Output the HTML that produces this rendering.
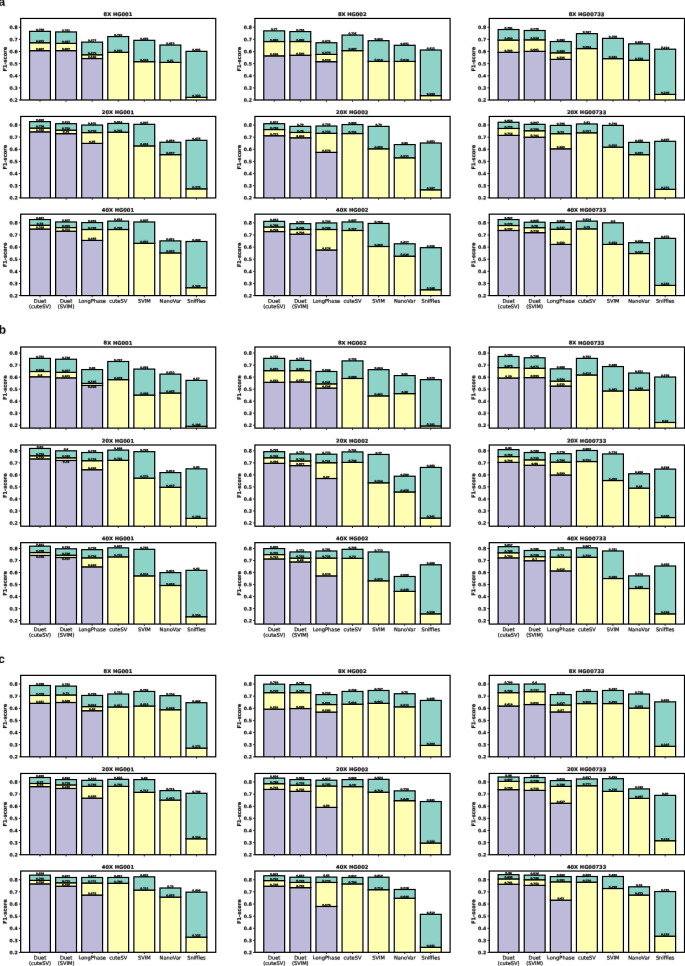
<!DOCTYPE html>
<html lang="en"><head><meta charset="utf-8"><title>F1-score benchmarks</title>
<style>html,body{margin:0;padding:0;background:#fff}body{width:685px;height:966px;overflow:hidden}svg{display:block}text{text-rendering:geometricPrecision}.t{font-family:'DejaVu Sans','Liberation Sans',sans-serif;font-weight:bold;font-size:5.15px;text-anchor:middle}.y{font-family:'DejaVu Sans','Liberation Sans',sans-serif;font-weight:bold;font-size:4.6px;text-anchor:end}.yl{font-family:'DejaVu Sans','Liberation Sans',sans-serif;font-weight:bold;font-size:5.1px;text-anchor:middle}.x{font-family:'DejaVu Sans','Liberation Sans',sans-serif;font-weight:normal;font-size:5.1px;text-anchor:middle}.v{font-family:'DejaVu Sans','Liberation Sans',sans-serif;font-weight:bold;font-size:2.6px;text-anchor:middle}.p{font-family:"Liberation Sans",Arial,sans-serif;font-weight:bold;font-size:12px}.t,.yl{stroke:#000;stroke-width:0.18px}.y{stroke:#000;stroke-width:0.16px}.v{stroke:#000;stroke-width:0.3px}.x{stroke:#000;stroke-width:0.2px}.b rect{stroke:#000;stroke-width:1.2}</style></head><body>
<svg width="685" height="966" viewBox="0 0 685 966">
<rect width="685" height="966" fill="#fff"/>
<g>
<clipPath id="c1"><rect x="20.7" y="18.45" width="195.05" height="81.55"/></clipPath>
<g class="b" clip-path="url(#c1)">
<rect x="29.57" y="50.63" width="20.86" height="52.37" fill="#bebada"/>
<rect x="29.57" y="42.75" width="20.86" height="7.88" fill="#ffffb3"/>
<rect x="29.57" y="31.34" width="20.86" height="11.4" fill="#8dd3c7"/>
<rect x="55.64" y="50.63" width="20.86" height="52.37" fill="#bebada"/>
<rect x="55.64" y="43.35" width="20.86" height="7.28" fill="#ffffb3"/>
<rect x="55.64" y="31.95" width="20.86" height="11.4" fill="#8dd3c7"/>
<rect x="81.72" y="58.52" width="20.86" height="44.48" fill="#bebada"/>
<rect x="81.72" y="54.76" width="20.86" height="3.76" fill="#ffffb3"/>
<rect x="81.72" y="42.14" width="20.86" height="12.62" fill="#8dd3c7"/>
<rect x="107.79" y="52.33" width="20.86" height="50.67" fill="#ffffb3"/>
<rect x="107.79" y="36.56" width="20.86" height="15.77" fill="#8dd3c7"/>
<rect x="133.87" y="61.67" width="20.86" height="41.33" fill="#ffffb3"/>
<rect x="133.87" y="40.32" width="20.86" height="21.35" fill="#8dd3c7"/>
<rect x="159.95" y="62.4" width="20.86" height="40.6" fill="#ffffb3"/>
<rect x="159.95" y="45.05" width="20.86" height="17.35" fill="#8dd3c7"/>
<rect x="186.02" y="97.33" width="20.86" height="5.67" fill="#ffffb3"/>
<rect x="186.02" y="51.36" width="20.86" height="45.97" fill="#8dd3c7"/>
</g>
<rect x="20.7" y="18.45" width="195.05" height="81.55" fill="none" stroke="#000" stroke-width="1.2"/>
<path d="M20.4 100h-1.5M20.4 87.87h-1.5M20.4 75.74h-1.5M20.4 63.61h-1.5M20.4 51.48h-1.5M20.4 39.35h-1.5M20.4 27.22h-1.5M40 100.3v1.5M66.07 100.3v1.5M92.15 100.3v1.5M118.23 100.3v1.5M144.3 100.3v1.5M170.38 100.3v1.5M196.45 100.3v1.5" stroke="#000" stroke-width="0.8" fill="none"/>
</g>
<g>
<clipPath id="c2"><rect x="254.9" y="18.45" width="195.2" height="81.55"/></clipPath>
<g class="b" clip-path="url(#c2)">
<rect x="263.77" y="55.85" width="20.88" height="47.15" fill="#bebada"/>
<rect x="263.77" y="41.53" width="20.88" height="14.31" fill="#ffffb3"/>
<rect x="263.77" y="30.86" width="20.88" height="10.67" fill="#8dd3c7"/>
<rect x="289.87" y="55.24" width="20.88" height="47.76" fill="#bebada"/>
<rect x="289.87" y="41.53" width="20.88" height="13.71" fill="#ffffb3"/>
<rect x="289.87" y="31.59" width="20.88" height="9.95" fill="#8dd3c7"/>
<rect x="315.97" y="61.67" width="20.88" height="41.33" fill="#bebada"/>
<rect x="315.97" y="54.39" width="20.88" height="7.28" fill="#ffffb3"/>
<rect x="315.97" y="42.75" width="20.88" height="11.64" fill="#8dd3c7"/>
<rect x="342.06" y="50.63" width="20.88" height="52.37" fill="#ffffb3"/>
<rect x="342.06" y="35.1" width="20.88" height="15.53" fill="#8dd3c7"/>
<rect x="368.16" y="61.43" width="20.88" height="41.57" fill="#ffffb3"/>
<rect x="368.16" y="40.68" width="20.88" height="20.74" fill="#8dd3c7"/>
<rect x="394.25" y="61.43" width="20.88" height="41.57" fill="#ffffb3"/>
<rect x="394.25" y="45.29" width="20.88" height="16.13" fill="#8dd3c7"/>
<rect x="420.35" y="95.63" width="20.88" height="7.37" fill="#ffffb3"/>
<rect x="420.35" y="50.02" width="20.88" height="45.61" fill="#8dd3c7"/>
</g>
<rect x="254.9" y="18.45" width="195.2" height="81.55" fill="none" stroke="#000" stroke-width="1.2"/>
<path d="M254.6 100h-1.5M254.6 87.87h-1.5M254.6 75.74h-1.5M254.6 63.61h-1.5M254.6 51.48h-1.5M254.6 39.35h-1.5M254.6 27.22h-1.5M274.21 100.3v1.5M300.31 100.3v1.5M326.4 100.3v1.5M352.5 100.3v1.5M378.6 100.3v1.5M404.69 100.3v1.5M430.79 100.3v1.5" stroke="#000" stroke-width="0.8" fill="none"/>
</g>
<g>
<clipPath id="c3"><rect x="489.25" y="18.45" width="195.25" height="81.55"/></clipPath>
<g class="b" clip-path="url(#c3)">
<rect x="498.12" y="52.33" width="20.88" height="50.67" fill="#bebada"/>
<rect x="498.12" y="40.08" width="20.88" height="12.25" fill="#ffffb3"/>
<rect x="498.12" y="29.52" width="20.88" height="10.55" fill="#8dd3c7"/>
<rect x="524.23" y="51.36" width="20.88" height="51.64" fill="#bebada"/>
<rect x="524.23" y="39.84" width="20.88" height="11.52" fill="#ffffb3"/>
<rect x="524.23" y="30.5" width="20.88" height="9.34" fill="#8dd3c7"/>
<rect x="550.33" y="59.36" width="20.88" height="43.64" fill="#bebada"/>
<rect x="550.33" y="52.81" width="20.88" height="6.55" fill="#ffffb3"/>
<rect x="550.33" y="41.53" width="20.88" height="11.28" fill="#8dd3c7"/>
<rect x="576.43" y="48.57" width="20.88" height="54.43" fill="#ffffb3"/>
<rect x="576.43" y="33.65" width="20.88" height="14.92" fill="#8dd3c7"/>
<rect x="602.54" y="58.64" width="20.88" height="44.36" fill="#ffffb3"/>
<rect x="602.54" y="38.38" width="20.88" height="20.26" fill="#8dd3c7"/>
<rect x="628.64" y="60.21" width="20.88" height="42.79" fill="#ffffb3"/>
<rect x="628.64" y="43.84" width="20.88" height="16.38" fill="#8dd3c7"/>
<rect x="654.74" y="94.42" width="20.88" height="8.58" fill="#ffffb3"/>
<rect x="654.74" y="49.18" width="20.88" height="45.24" fill="#8dd3c7"/>
</g>
<rect x="489.25" y="18.45" width="195.25" height="81.55" fill="none" stroke="#000" stroke-width="1.2"/>
<path d="M488.95 100h-1.5M488.95 87.87h-1.5M488.95 75.74h-1.5M488.95 63.61h-1.5M488.95 51.48h-1.5M488.95 39.35h-1.5M488.95 27.22h-1.5M508.57 100.3v1.5M534.67 100.3v1.5M560.77 100.3v1.5M586.88 100.3v1.5M612.98 100.3v1.5M639.08 100.3v1.5M665.18 100.3v1.5" stroke="#000" stroke-width="0.8" fill="none"/>
</g>
<g>
<clipPath id="c4"><rect x="20.7" y="116.45" width="195.05" height="81.5"/></clipPath>
<g class="b" clip-path="url(#c4)">
<rect x="29.57" y="131.84" width="20.86" height="69.11" fill="#bebada"/>
<rect x="29.57" y="128.08" width="20.86" height="3.76" fill="#ffffb3"/>
<rect x="29.57" y="121.65" width="20.86" height="6.43" fill="#8dd3c7"/>
<rect x="55.64" y="133.66" width="20.86" height="67.29" fill="#bebada"/>
<rect x="55.64" y="130.14" width="20.86" height="3.52" fill="#ffffb3"/>
<rect x="55.64" y="123.71" width="20.86" height="6.43" fill="#8dd3c7"/>
<rect x="81.72" y="143.36" width="20.86" height="57.59" fill="#bebada"/>
<rect x="81.72" y="132.57" width="20.86" height="10.8" fill="#ffffb3"/>
<rect x="81.72" y="125.05" width="20.86" height="7.52" fill="#8dd3c7"/>
<rect x="107.79" y="132.21" width="20.86" height="68.74" fill="#ffffb3"/>
<rect x="107.79" y="123.47" width="20.86" height="8.73" fill="#8dd3c7"/>
<rect x="133.87" y="145.91" width="20.86" height="55.04" fill="#ffffb3"/>
<rect x="133.87" y="124.32" width="20.86" height="21.59" fill="#8dd3c7"/>
<rect x="159.95" y="154.65" width="20.86" height="46.3" fill="#ffffb3"/>
<rect x="159.95" y="142.27" width="20.86" height="12.37" fill="#8dd3c7"/>
<rect x="186.02" y="188.85" width="20.86" height="12.1" fill="#ffffb3"/>
<rect x="186.02" y="140.33" width="20.86" height="48.52" fill="#8dd3c7"/>
</g>
<rect x="20.7" y="116.45" width="195.05" height="81.5" fill="none" stroke="#000" stroke-width="1.2"/>
<path d="M20.4 197.8h-1.5M20.4 185.67h-1.5M20.4 173.54h-1.5M20.4 161.41h-1.5M20.4 149.28h-1.5M20.4 137.15h-1.5M20.4 125.02h-1.5M40 198.25v1.5M66.07 198.25v1.5M92.15 198.25v1.5M118.23 198.25v1.5M144.3 198.25v1.5M170.38 198.25v1.5M196.45 198.25v1.5" stroke="#000" stroke-width="0.8" fill="none"/>
</g>
<g>
<clipPath id="c5"><rect x="254.9" y="116.45" width="195.2" height="81.5"/></clipPath>
<g class="b" clip-path="url(#c5)">
<rect x="263.77" y="135.72" width="20.88" height="65.23" fill="#bebada"/>
<rect x="263.77" y="129.54" width="20.88" height="6.19" fill="#ffffb3"/>
<rect x="263.77" y="123.71" width="20.88" height="5.82" fill="#8dd3c7"/>
<rect x="289.87" y="137.79" width="20.88" height="63.16" fill="#bebada"/>
<rect x="289.87" y="132.45" width="20.88" height="5.34" fill="#ffffb3"/>
<rect x="289.87" y="126.38" width="20.88" height="6.06" fill="#8dd3c7"/>
<rect x="315.97" y="152.34" width="20.88" height="48.61" fill="#bebada"/>
<rect x="315.97" y="133.3" width="20.88" height="19.04" fill="#ffffb3"/>
<rect x="315.97" y="126.02" width="20.88" height="7.28" fill="#8dd3c7"/>
<rect x="342.06" y="133.54" width="20.88" height="67.41" fill="#ffffb3"/>
<rect x="342.06" y="124.56" width="20.88" height="8.98" fill="#8dd3c7"/>
<rect x="368.16" y="148.82" width="20.88" height="52.13" fill="#ffffb3"/>
<rect x="368.16" y="126.38" width="20.88" height="22.44" fill="#8dd3c7"/>
<rect x="394.25" y="157.8" width="20.88" height="43.15" fill="#ffffb3"/>
<rect x="394.25" y="144.58" width="20.88" height="13.22" fill="#8dd3c7"/>
<rect x="420.35" y="189.82" width="20.88" height="11.13" fill="#ffffb3"/>
<rect x="420.35" y="143" width="20.88" height="46.82" fill="#8dd3c7"/>
</g>
<rect x="254.9" y="116.45" width="195.2" height="81.5" fill="none" stroke="#000" stroke-width="1.2"/>
<path d="M254.6 197.8h-1.5M254.6 185.67h-1.5M254.6 173.54h-1.5M254.6 161.41h-1.5M254.6 149.28h-1.5M254.6 137.15h-1.5M254.6 125.02h-1.5M274.21 198.25v1.5M300.31 198.25v1.5M326.4 198.25v1.5M352.5 198.25v1.5M378.6 198.25v1.5M404.69 198.25v1.5M430.79 198.25v1.5" stroke="#000" stroke-width="0.8" fill="none"/>
</g>
<g>
<clipPath id="c6"><rect x="489.25" y="116.45" width="195.25" height="81.5"/></clipPath>
<g class="b" clip-path="url(#c6)">
<rect x="498.12" y="135.36" width="20.88" height="65.59" fill="#bebada"/>
<rect x="498.12" y="128.45" width="20.88" height="6.91" fill="#ffffb3"/>
<rect x="498.12" y="122.26" width="20.88" height="6.19" fill="#8dd3c7"/>
<rect x="524.23" y="137.18" width="20.88" height="63.77" fill="#bebada"/>
<rect x="524.23" y="130.75" width="20.88" height="6.43" fill="#ffffb3"/>
<rect x="524.23" y="124.32" width="20.88" height="6.43" fill="#8dd3c7"/>
<rect x="550.33" y="148.82" width="20.88" height="52.13" fill="#bebada"/>
<rect x="550.33" y="133.66" width="20.88" height="15.16" fill="#ffffb3"/>
<rect x="550.33" y="125.41" width="20.88" height="8.25" fill="#8dd3c7"/>
<rect x="576.43" y="132.81" width="20.88" height="68.14" fill="#ffffb3"/>
<rect x="576.43" y="123.96" width="20.88" height="8.85" fill="#8dd3c7"/>
<rect x="602.54" y="147.13" width="20.88" height="53.82" fill="#ffffb3"/>
<rect x="602.54" y="125.41" width="20.88" height="21.71" fill="#8dd3c7"/>
<rect x="628.64" y="154.65" width="20.88" height="46.3" fill="#ffffb3"/>
<rect x="628.64" y="142.39" width="20.88" height="12.25" fill="#8dd3c7"/>
<rect x="654.74" y="189.34" width="20.88" height="11.61" fill="#ffffb3"/>
<rect x="654.74" y="141.3" width="20.88" height="48.03" fill="#8dd3c7"/>
</g>
<rect x="489.25" y="116.45" width="195.25" height="81.5" fill="none" stroke="#000" stroke-width="1.2"/>
<path d="M488.95 197.8h-1.5M488.95 185.67h-1.5M488.95 173.54h-1.5M488.95 161.41h-1.5M488.95 149.28h-1.5M488.95 137.15h-1.5M488.95 125.02h-1.5M508.57 198.25v1.5M534.67 198.25v1.5M560.77 198.25v1.5M586.88 198.25v1.5M612.98 198.25v1.5M639.08 198.25v1.5M665.18 198.25v1.5" stroke="#000" stroke-width="0.8" fill="none"/>
</g>
<g>
<clipPath id="c7"><rect x="20.7" y="214.15" width="195.05" height="81.45"/></clipPath>
<g class="b" clip-path="url(#c7)">
<rect x="29.57" y="229.01" width="20.86" height="69.59" fill="#bebada"/>
<rect x="29.57" y="225.25" width="20.86" height="3.76" fill="#ffffb3"/>
<rect x="29.57" y="219.54" width="20.86" height="5.7" fill="#8dd3c7"/>
<rect x="55.64" y="231.19" width="20.86" height="67.41" fill="#bebada"/>
<rect x="55.64" y="227.55" width="20.86" height="3.64" fill="#ffffb3"/>
<rect x="55.64" y="221.97" width="20.86" height="5.58" fill="#8dd3c7"/>
<rect x="81.72" y="240.41" width="20.86" height="58.19" fill="#bebada"/>
<rect x="81.72" y="229.49" width="20.86" height="10.92" fill="#ffffb3"/>
<rect x="81.72" y="222.58" width="20.86" height="6.91" fill="#8dd3c7"/>
<rect x="107.79" y="229.49" width="20.86" height="69.11" fill="#ffffb3"/>
<rect x="107.79" y="221.12" width="20.86" height="8.37" fill="#8dd3c7"/>
<rect x="133.87" y="243.32" width="20.86" height="55.28" fill="#ffffb3"/>
<rect x="133.87" y="221.97" width="20.86" height="21.35" fill="#8dd3c7"/>
<rect x="159.95" y="252.9" width="20.86" height="45.7" fill="#ffffb3"/>
<rect x="159.95" y="240.89" width="20.86" height="12.01" fill="#8dd3c7"/>
<rect x="186.02" y="287.72" width="20.86" height="10.88" fill="#ffffb3"/>
<rect x="186.02" y="241.5" width="20.86" height="46.22" fill="#8dd3c7"/>
</g>
<rect x="20.7" y="214.15" width="195.05" height="81.45" fill="none" stroke="#000" stroke-width="1.2"/>
<path d="M20.4 295.6h-1.5M20.4 283.47h-1.5M20.4 271.34h-1.5M20.4 259.21h-1.5M20.4 247.08h-1.5M20.4 234.95h-1.5M20.4 222.82h-1.5M40 295.9v1.5M66.07 295.9v1.5M92.15 295.9v1.5M118.23 295.9v1.5M144.3 295.9v1.5M170.38 295.9v1.5M196.45 295.9v1.5" stroke="#000" stroke-width="0.8" fill="none"/>
</g>
<g>
<clipPath id="c8"><rect x="254.9" y="214.15" width="195.2" height="81.45"/></clipPath>
<g class="b" clip-path="url(#c8)">
<rect x="263.77" y="231.55" width="20.88" height="67.05" fill="#bebada"/>
<rect x="263.77" y="226.94" width="20.88" height="4.61" fill="#ffffb3"/>
<rect x="263.77" y="221.36" width="20.88" height="5.58" fill="#8dd3c7"/>
<rect x="289.87" y="234.22" width="20.88" height="64.38" fill="#bebada"/>
<rect x="289.87" y="229.49" width="20.88" height="4.73" fill="#ffffb3"/>
<rect x="289.87" y="223.67" width="20.88" height="5.82" fill="#8dd3c7"/>
<rect x="315.97" y="249.99" width="20.88" height="48.61" fill="#bebada"/>
<rect x="315.97" y="229.49" width="20.88" height="20.5" fill="#ffffb3"/>
<rect x="315.97" y="222.94" width="20.88" height="6.55" fill="#8dd3c7"/>
<rect x="342.06" y="230.46" width="20.88" height="68.14" fill="#ffffb3"/>
<rect x="342.06" y="221.97" width="20.88" height="8.49" fill="#8dd3c7"/>
<rect x="368.16" y="246.47" width="20.88" height="52.13" fill="#ffffb3"/>
<rect x="368.16" y="223.43" width="20.88" height="23.05" fill="#8dd3c7"/>
<rect x="394.25" y="256.18" width="20.88" height="42.42" fill="#ffffb3"/>
<rect x="394.25" y="243.8" width="20.88" height="12.37" fill="#8dd3c7"/>
<rect x="420.35" y="289.78" width="20.88" height="8.82" fill="#ffffb3"/>
<rect x="420.35" y="247.69" width="20.88" height="42.09" fill="#8dd3c7"/>
</g>
<rect x="254.9" y="214.15" width="195.2" height="81.45" fill="none" stroke="#000" stroke-width="1.2"/>
<path d="M254.6 295.6h-1.5M254.6 283.47h-1.5M254.6 271.34h-1.5M254.6 259.21h-1.5M254.6 247.08h-1.5M254.6 234.95h-1.5M254.6 222.82h-1.5M274.21 295.9v1.5M300.31 295.9v1.5M326.4 295.9v1.5M352.5 295.9v1.5M378.6 295.9v1.5M404.69 295.9v1.5M430.79 295.9v1.5" stroke="#000" stroke-width="0.8" fill="none"/>
</g>
<g>
<clipPath id="c9"><rect x="489.25" y="214.15" width="195.25" height="81.45"/></clipPath>
<g class="b" clip-path="url(#c9)">
<rect x="498.12" y="230.46" width="20.88" height="68.14" fill="#bebada"/>
<rect x="498.12" y="225.49" width="20.88" height="4.97" fill="#ffffb3"/>
<rect x="498.12" y="219.54" width="20.88" height="5.94" fill="#8dd3c7"/>
<rect x="524.23" y="232.65" width="20.88" height="65.95" fill="#bebada"/>
<rect x="524.23" y="227.67" width="20.88" height="4.97" fill="#ffffb3"/>
<rect x="524.23" y="222.21" width="20.88" height="5.46" fill="#8dd3c7"/>
<rect x="550.33" y="244.41" width="20.88" height="54.19" fill="#bebada"/>
<rect x="550.33" y="229.25" width="20.88" height="15.16" fill="#ffffb3"/>
<rect x="550.33" y="222.58" width="20.88" height="6.67" fill="#8dd3c7"/>
<rect x="576.43" y="228.89" width="20.88" height="69.72" fill="#ffffb3"/>
<rect x="576.43" y="221.12" width="20.88" height="7.76" fill="#8dd3c7"/>
<rect x="602.54" y="244.41" width="20.88" height="54.19" fill="#ffffb3"/>
<rect x="602.54" y="222.82" width="20.88" height="21.59" fill="#8dd3c7"/>
<rect x="628.64" y="253.51" width="20.88" height="45.09" fill="#ffffb3"/>
<rect x="628.64" y="242.71" width="20.88" height="10.8" fill="#8dd3c7"/>
<rect x="654.74" y="285.41" width="20.88" height="13.19" fill="#ffffb3"/>
<rect x="654.74" y="238.35" width="20.88" height="47.06" fill="#8dd3c7"/>
</g>
<rect x="489.25" y="214.15" width="195.25" height="81.45" fill="none" stroke="#000" stroke-width="1.2"/>
<path d="M488.95 295.6h-1.5M488.95 283.47h-1.5M488.95 271.34h-1.5M488.95 259.21h-1.5M488.95 247.08h-1.5M488.95 234.95h-1.5M488.95 222.82h-1.5M508.57 295.9v1.5M534.67 295.9v1.5M560.77 295.9v1.5M586.88 295.9v1.5M612.98 295.9v1.5M639.08 295.9v1.5M665.18 295.9v1.5" stroke="#000" stroke-width="0.8" fill="none"/>
</g>
<g>
<clipPath id="c10"><rect x="20.7" y="347" width="195.05" height="81.1"/></clipPath>
<g class="b" clip-path="url(#c10)">
<rect x="29.57" y="376.77" width="20.86" height="54.33" fill="#bebada"/>
<rect x="29.57" y="371.48" width="20.86" height="5.29" fill="#ffffb3"/>
<rect x="29.57" y="358.38" width="20.86" height="13.1" fill="#8dd3c7"/>
<rect x="55.64" y="377.85" width="20.86" height="53.25" fill="#bebada"/>
<rect x="55.64" y="372.32" width="20.86" height="5.53" fill="#ffffb3"/>
<rect x="55.64" y="359.22" width="20.86" height="13.1" fill="#8dd3c7"/>
<rect x="81.72" y="385.42" width="20.86" height="45.68" fill="#bebada"/>
<rect x="81.72" y="383.38" width="20.86" height="2.04" fill="#ffffb3"/>
<rect x="81.72" y="369.56" width="20.86" height="13.82" fill="#8dd3c7"/>
<rect x="107.79" y="379.65" width="20.86" height="51.45" fill="#ffffb3"/>
<rect x="107.79" y="361.5" width="20.86" height="18.15" fill="#8dd3c7"/>
<rect x="133.87" y="395.04" width="20.86" height="36.06" fill="#ffffb3"/>
<rect x="133.87" y="369.08" width="20.86" height="25.96" fill="#8dd3c7"/>
<rect x="159.95" y="393" width="20.86" height="38.1" fill="#ffffb3"/>
<rect x="159.95" y="374.13" width="20.86" height="18.87" fill="#8dd3c7"/>
<rect x="186.02" y="426.29" width="20.86" height="4.81" fill="#ffffb3"/>
<rect x="186.02" y="380.38" width="20.86" height="45.92" fill="#8dd3c7"/>
</g>
<rect x="20.7" y="347" width="195.05" height="81.1" fill="none" stroke="#000" stroke-width="1.2"/>
<path d="M20.4 425.2h-1.5M20.4 413.18h-1.5M20.4 401.16h-1.5M20.4 389.14h-1.5M20.4 377.12h-1.5M20.4 365.1h-1.5M20.4 353.08h-1.5M40 428.4v1.5M66.07 428.4v1.5M92.15 428.4v1.5M118.23 428.4v1.5M144.3 428.4v1.5M170.38 428.4v1.5M196.45 428.4v1.5" stroke="#000" stroke-width="0.8" fill="none"/>
</g>
<g>
<clipPath id="c11"><rect x="254.9" y="347" width="195.2" height="81.1"/></clipPath>
<g class="b" clip-path="url(#c11)">
<rect x="263.77" y="382.3" width="20.88" height="48.8" fill="#bebada"/>
<rect x="263.77" y="370.64" width="20.88" height="11.66" fill="#ffffb3"/>
<rect x="263.77" y="358.38" width="20.88" height="12.26" fill="#8dd3c7"/>
<rect x="289.87" y="381.94" width="20.88" height="49.16" fill="#bebada"/>
<rect x="289.87" y="370.64" width="20.88" height="11.3" fill="#ffffb3"/>
<rect x="289.87" y="360.42" width="20.88" height="10.22" fill="#8dd3c7"/>
<rect x="315.97" y="388.07" width="20.88" height="43.03" fill="#bebada"/>
<rect x="315.97" y="383.86" width="20.88" height="4.21" fill="#ffffb3"/>
<rect x="315.97" y="371.48" width="20.88" height="12.38" fill="#8dd3c7"/>
<rect x="342.06" y="378.45" width="20.88" height="52.65" fill="#ffffb3"/>
<rect x="342.06" y="360.9" width="20.88" height="17.55" fill="#8dd3c7"/>
<rect x="368.16" y="395.88" width="20.88" height="35.22" fill="#ffffb3"/>
<rect x="368.16" y="369.68" width="20.88" height="26.2" fill="#8dd3c7"/>
<rect x="394.25" y="393.6" width="20.88" height="37.5" fill="#ffffb3"/>
<rect x="394.25" y="375.57" width="20.88" height="18.03" fill="#8dd3c7"/>
<rect x="420.35" y="425.93" width="20.88" height="5.17" fill="#ffffb3"/>
<rect x="420.35" y="379.65" width="20.88" height="46.28" fill="#8dd3c7"/>
</g>
<rect x="254.9" y="347" width="195.2" height="81.1" fill="none" stroke="#000" stroke-width="1.2"/>
<path d="M254.6 425.2h-1.5M254.6 413.18h-1.5M254.6 401.16h-1.5M254.6 389.14h-1.5M254.6 377.12h-1.5M254.6 365.1h-1.5M254.6 353.08h-1.5M274.21 428.4v1.5M300.31 428.4v1.5M326.4 428.4v1.5M352.5 428.4v1.5M378.6 428.4v1.5M404.69 428.4v1.5M430.79 428.4v1.5" stroke="#000" stroke-width="0.8" fill="none"/>
</g>
<g>
<clipPath id="c12"><rect x="489.25" y="347" width="195.25" height="81.1"/></clipPath>
<g class="b" clip-path="url(#c12)">
<rect x="498.12" y="377.97" width="20.88" height="53.13" fill="#bebada"/>
<rect x="498.12" y="367.63" width="20.88" height="10.34" fill="#ffffb3"/>
<rect x="498.12" y="356.46" width="20.88" height="11.18" fill="#8dd3c7"/>
<rect x="524.23" y="377.61" width="20.88" height="53.49" fill="#bebada"/>
<rect x="524.23" y="368.24" width="20.88" height="9.38" fill="#ffffb3"/>
<rect x="524.23" y="357.78" width="20.88" height="10.46" fill="#8dd3c7"/>
<rect x="550.33" y="386.03" width="20.88" height="45.07" fill="#bebada"/>
<rect x="550.33" y="381.1" width="20.88" height="4.93" fill="#ffffb3"/>
<rect x="550.33" y="368.84" width="20.88" height="12.26" fill="#8dd3c7"/>
<rect x="576.43" y="374.97" width="20.88" height="56.13" fill="#ffffb3"/>
<rect x="576.43" y="358.38" width="20.88" height="16.59" fill="#8dd3c7"/>
<rect x="602.54" y="390.95" width="20.88" height="40.15" fill="#ffffb3"/>
<rect x="602.54" y="366.55" width="20.88" height="24.4" fill="#8dd3c7"/>
<rect x="628.64" y="390.11" width="20.88" height="40.99" fill="#ffffb3"/>
<rect x="628.64" y="373.04" width="20.88" height="17.07" fill="#8dd3c7"/>
<rect x="654.74" y="422.45" width="20.88" height="8.65" fill="#ffffb3"/>
<rect x="654.74" y="377.01" width="20.88" height="45.44" fill="#8dd3c7"/>
</g>
<rect x="489.25" y="347" width="195.25" height="81.1" fill="none" stroke="#000" stroke-width="1.2"/>
<path d="M488.95 425.2h-1.5M488.95 413.18h-1.5M488.95 401.16h-1.5M488.95 389.14h-1.5M488.95 377.12h-1.5M488.95 365.1h-1.5M488.95 353.08h-1.5M508.57 428.4v1.5M534.67 428.4v1.5M560.77 428.4v1.5M586.88 428.4v1.5M612.98 428.4v1.5M639.08 428.4v1.5M665.18 428.4v1.5" stroke="#000" stroke-width="0.8" fill="none"/>
</g>
<g>
<clipPath id="c13"><rect x="20.7" y="445" width="195.05" height="81.2"/></clipPath>
<g class="b" clip-path="url(#c13)">
<rect x="29.57" y="458.88" width="20.86" height="70.32" fill="#bebada"/>
<rect x="29.57" y="455.76" width="20.86" height="3.13" fill="#ffffb3"/>
<rect x="29.57" y="448.43" width="20.86" height="7.33" fill="#8dd3c7"/>
<rect x="55.64" y="460.45" width="20.86" height="68.75" fill="#bebada"/>
<rect x="55.64" y="457.8" width="20.86" height="2.64" fill="#ffffb3"/>
<rect x="55.64" y="450.83" width="20.86" height="6.97" fill="#8dd3c7"/>
<rect x="81.72" y="469.7" width="20.86" height="59.5" fill="#bebada"/>
<rect x="81.72" y="460.69" width="20.86" height="9.01" fill="#ffffb3"/>
<rect x="81.72" y="452.51" width="20.86" height="8.17" fill="#8dd3c7"/>
<rect x="107.79" y="460.33" width="20.86" height="68.87" fill="#ffffb3"/>
<rect x="107.79" y="450.11" width="20.86" height="10.22" fill="#8dd3c7"/>
<rect x="133.87" y="478.12" width="20.86" height="51.08" fill="#ffffb3"/>
<rect x="133.87" y="451.67" width="20.86" height="26.44" fill="#8dd3c7"/>
<rect x="159.95" y="487.25" width="20.86" height="41.95" fill="#ffffb3"/>
<rect x="159.95" y="472.59" width="20.86" height="14.66" fill="#8dd3c7"/>
<rect x="186.02" y="518.38" width="20.86" height="10.82" fill="#ffffb3"/>
<rect x="186.02" y="468.86" width="20.86" height="49.52" fill="#8dd3c7"/>
</g>
<rect x="20.7" y="445" width="195.05" height="81.2" fill="none" stroke="#000" stroke-width="1.2"/>
<path d="M20.4 522.95h-1.5M20.4 510.93h-1.5M20.4 498.91h-1.5M20.4 486.89h-1.5M20.4 474.87h-1.5M20.4 462.85h-1.5M20.4 450.83h-1.5M40 526.5v1.5M66.07 526.5v1.5M92.15 526.5v1.5M118.23 526.5v1.5M144.3 526.5v1.5M170.38 526.5v1.5M196.45 526.5v1.5" stroke="#000" stroke-width="0.8" fill="none"/>
</g>
<g>
<clipPath id="c14"><rect x="254.9" y="445" width="195.2" height="81.2"/></clipPath>
<g class="b" clip-path="url(#c14)">
<rect x="263.77" y="463.33" width="20.88" height="65.87" fill="#bebada"/>
<rect x="263.77" y="457.8" width="20.88" height="5.53" fill="#ffffb3"/>
<rect x="263.77" y="451.67" width="20.88" height="6.13" fill="#8dd3c7"/>
<rect x="289.87" y="465.61" width="20.88" height="63.59" fill="#bebada"/>
<rect x="289.87" y="460.93" width="20.88" height="4.69" fill="#ffffb3"/>
<rect x="289.87" y="453.96" width="20.88" height="6.97" fill="#8dd3c7"/>
<rect x="315.97" y="478.48" width="20.88" height="50.72" fill="#bebada"/>
<rect x="315.97" y="462.73" width="20.88" height="15.75" fill="#ffffb3"/>
<rect x="315.97" y="454.2" width="20.88" height="8.53" fill="#8dd3c7"/>
<rect x="342.06" y="462.37" width="20.88" height="66.83" fill="#ffffb3"/>
<rect x="342.06" y="451.91" width="20.88" height="10.46" fill="#8dd3c7"/>
<rect x="368.16" y="482.8" width="20.88" height="46.4" fill="#ffffb3"/>
<rect x="368.16" y="454.44" width="20.88" height="28.37" fill="#8dd3c7"/>
<rect x="394.25" y="491.94" width="20.88" height="37.26" fill="#ffffb3"/>
<rect x="394.25" y="476.19" width="20.88" height="15.75" fill="#8dd3c7"/>
<rect x="420.35" y="518.02" width="20.88" height="11.18" fill="#ffffb3"/>
<rect x="420.35" y="467.42" width="20.88" height="50.6" fill="#8dd3c7"/>
</g>
<rect x="254.9" y="445" width="195.2" height="81.2" fill="none" stroke="#000" stroke-width="1.2"/>
<path d="M254.6 522.95h-1.5M254.6 510.93h-1.5M254.6 498.91h-1.5M254.6 486.89h-1.5M254.6 474.87h-1.5M254.6 462.85h-1.5M254.6 450.83h-1.5M274.21 526.5v1.5M300.31 526.5v1.5M326.4 526.5v1.5M352.5 526.5v1.5M378.6 526.5v1.5M404.69 526.5v1.5M430.79 526.5v1.5" stroke="#000" stroke-width="0.8" fill="none"/>
</g>
<g>
<clipPath id="c15"><rect x="489.25" y="445" width="195.25" height="81.2"/></clipPath>
<g class="b" clip-path="url(#c15)">
<rect x="498.12" y="462.37" width="20.88" height="66.83" fill="#bebada"/>
<rect x="498.12" y="456.6" width="20.88" height="5.77" fill="#ffffb3"/>
<rect x="498.12" y="449.63" width="20.88" height="6.97" fill="#8dd3c7"/>
<rect x="524.23" y="465.25" width="20.88" height="63.95" fill="#bebada"/>
<rect x="524.23" y="459.85" width="20.88" height="5.41" fill="#ffffb3"/>
<rect x="524.23" y="452.51" width="20.88" height="7.33" fill="#8dd3c7"/>
<rect x="550.33" y="474.99" width="20.88" height="54.21" fill="#bebada"/>
<rect x="550.33" y="462.13" width="20.88" height="12.86" fill="#ffffb3"/>
<rect x="550.33" y="453.71" width="20.88" height="8.41" fill="#8dd3c7"/>
<rect x="576.43" y="461.53" width="20.88" height="67.67" fill="#ffffb3"/>
<rect x="576.43" y="450.47" width="20.88" height="11.06" fill="#8dd3c7"/>
<rect x="602.54" y="480.52" width="20.88" height="48.68" fill="#ffffb3"/>
<rect x="602.54" y="453.96" width="20.88" height="26.56" fill="#8dd3c7"/>
<rect x="628.64" y="488.09" width="20.88" height="41.11" fill="#ffffb3"/>
<rect x="628.64" y="473.79" width="20.88" height="14.3" fill="#8dd3c7"/>
<rect x="654.74" y="517.54" width="20.88" height="11.66" fill="#ffffb3"/>
<rect x="654.74" y="469.1" width="20.88" height="48.44" fill="#8dd3c7"/>
</g>
<rect x="489.25" y="445" width="195.25" height="81.2" fill="none" stroke="#000" stroke-width="1.2"/>
<path d="M488.95 522.95h-1.5M488.95 510.93h-1.5M488.95 498.91h-1.5M488.95 486.89h-1.5M488.95 474.87h-1.5M488.95 462.85h-1.5M488.95 450.83h-1.5M508.57 526.5v1.5M534.67 526.5v1.5M560.77 526.5v1.5M586.88 526.5v1.5M612.98 526.5v1.5M639.08 526.5v1.5M665.18 526.5v1.5" stroke="#000" stroke-width="0.8" fill="none"/>
</g>
<g>
<clipPath id="c16"><rect x="20.7" y="542.67" width="195.05" height="81.4"/></clipPath>
<g class="b" clip-path="url(#c16)">
<rect x="29.57" y="555.43" width="20.86" height="71.64" fill="#bebada"/>
<rect x="29.57" y="552.55" width="20.86" height="2.88" fill="#ffffb3"/>
<rect x="29.57" y="546.18" width="20.86" height="6.37" fill="#8dd3c7"/>
<rect x="55.64" y="557.47" width="20.86" height="69.6" fill="#bebada"/>
<rect x="55.64" y="555.19" width="20.86" height="2.28" fill="#ffffb3"/>
<rect x="55.64" y="548.82" width="20.86" height="6.37" fill="#8dd3c7"/>
<rect x="81.72" y="566.85" width="20.86" height="60.22" fill="#bebada"/>
<rect x="81.72" y="557.84" width="20.86" height="9.02" fill="#ffffb3"/>
<rect x="81.72" y="549.66" width="20.86" height="8.17" fill="#8dd3c7"/>
<rect x="107.79" y="556.87" width="20.86" height="70.2" fill="#ffffb3"/>
<rect x="107.79" y="547.86" width="20.86" height="9.01" fill="#8dd3c7"/>
<rect x="133.87" y="575.87" width="20.86" height="51.2" fill="#ffffb3"/>
<rect x="133.87" y="549.3" width="20.86" height="26.56" fill="#8dd3c7"/>
<rect x="159.95" y="585.48" width="20.86" height="41.59" fill="#ffffb3"/>
<rect x="159.95" y="572.62" width="20.86" height="12.86" fill="#8dd3c7"/>
<rect x="186.02" y="616.73" width="20.86" height="10.34" fill="#ffffb3"/>
<rect x="186.02" y="570.34" width="20.86" height="46.4" fill="#8dd3c7"/>
</g>
<rect x="20.7" y="542.67" width="195.05" height="81.4" fill="none" stroke="#000" stroke-width="1.2"/>
<path d="M20.4 620.62h-1.5M20.4 608.6h-1.5M20.4 596.58h-1.5M20.4 584.56h-1.5M20.4 572.54h-1.5M20.4 560.52h-1.5M20.4 548.5h-1.5M40 624.37v1.5M66.07 624.37v1.5M92.15 624.37v1.5M118.23 624.37v1.5M144.3 624.37v1.5M170.38 624.37v1.5M196.45 624.37v1.5" stroke="#000" stroke-width="0.8" fill="none"/>
</g>
<g>
<clipPath id="c17"><rect x="254.9" y="542.67" width="195.2" height="81.4"/></clipPath>
<g class="b" clip-path="url(#c17)">
<rect x="263.77" y="558.92" width="20.88" height="68.15" fill="#bebada"/>
<rect x="263.77" y="554.59" width="20.88" height="4.33" fill="#ffffb3"/>
<rect x="263.77" y="548.58" width="20.88" height="6.01" fill="#8dd3c7"/>
<rect x="289.87" y="561.92" width="20.88" height="65.15" fill="#bebada"/>
<rect x="289.87" y="558.08" width="20.88" height="3.85" fill="#ffffb3"/>
<rect x="289.87" y="551.95" width="20.88" height="6.13" fill="#8dd3c7"/>
<rect x="315.97" y="575.87" width="20.88" height="51.2" fill="#bebada"/>
<rect x="315.97" y="558.08" width="20.88" height="17.79" fill="#ffffb3"/>
<rect x="315.97" y="550.98" width="20.88" height="7.09" fill="#8dd3c7"/>
<rect x="342.06" y="558.32" width="20.88" height="68.75" fill="#ffffb3"/>
<rect x="342.06" y="549.3" width="20.88" height="9.01" fill="#8dd3c7"/>
<rect x="368.16" y="580.79" width="20.88" height="46.28" fill="#ffffb3"/>
<rect x="368.16" y="551.95" width="20.88" height="28.85" fill="#8dd3c7"/>
<rect x="394.25" y="591.37" width="20.88" height="35.7" fill="#ffffb3"/>
<rect x="394.25" y="576.47" width="20.88" height="14.9" fill="#8dd3c7"/>
<rect x="420.35" y="613.85" width="20.88" height="13.22" fill="#ffffb3"/>
<rect x="420.35" y="564.81" width="20.88" height="49.04" fill="#8dd3c7"/>
</g>
<rect x="254.9" y="542.67" width="195.2" height="81.4" fill="none" stroke="#000" stroke-width="1.2"/>
<path d="M254.6 620.62h-1.5M254.6 608.6h-1.5M254.6 596.58h-1.5M254.6 584.56h-1.5M254.6 572.54h-1.5M254.6 560.52h-1.5M254.6 548.5h-1.5M274.21 624.37v1.5M300.31 624.37v1.5M326.4 624.37v1.5M352.5 624.37v1.5M378.6 624.37v1.5M404.69 624.37v1.5M430.79 624.37v1.5" stroke="#000" stroke-width="0.8" fill="none"/>
</g>
<g>
<clipPath id="c18"><rect x="489.25" y="542.67" width="195.25" height="81.4"/></clipPath>
<g class="b" clip-path="url(#c18)">
<rect x="498.12" y="557.84" width="20.88" height="69.23" fill="#bebada"/>
<rect x="498.12" y="552.79" width="20.88" height="5.05" fill="#ffffb3"/>
<rect x="498.12" y="546.66" width="20.88" height="6.13" fill="#8dd3c7"/>
<rect x="524.23" y="560.72" width="20.88" height="66.35" fill="#bebada"/>
<rect x="524.23" y="556.63" width="20.88" height="4.09" fill="#ffffb3"/>
<rect x="524.23" y="550.5" width="20.88" height="6.13" fill="#8dd3c7"/>
<rect x="550.33" y="570.94" width="20.88" height="56.13" fill="#bebada"/>
<rect x="550.33" y="557.11" width="20.88" height="13.82" fill="#ffffb3"/>
<rect x="550.33" y="549.9" width="20.88" height="7.21" fill="#8dd3c7"/>
<rect x="576.43" y="557.23" width="20.88" height="69.84" fill="#ffffb3"/>
<rect x="576.43" y="547.86" width="20.88" height="9.38" fill="#8dd3c7"/>
<rect x="602.54" y="578.51" width="20.88" height="48.56" fill="#ffffb3"/>
<rect x="602.54" y="550.98" width="20.88" height="27.53" fill="#8dd3c7"/>
<rect x="628.64" y="588.49" width="20.88" height="38.58" fill="#ffffb3"/>
<rect x="628.64" y="575.87" width="20.88" height="12.62" fill="#8dd3c7"/>
<rect x="654.74" y="613.85" width="20.88" height="13.22" fill="#ffffb3"/>
<rect x="654.74" y="566.01" width="20.88" height="47.84" fill="#8dd3c7"/>
</g>
<rect x="489.25" y="542.67" width="195.25" height="81.4" fill="none" stroke="#000" stroke-width="1.2"/>
<path d="M488.95 620.62h-1.5M488.95 608.6h-1.5M488.95 596.58h-1.5M488.95 584.56h-1.5M488.95 572.54h-1.5M488.95 560.52h-1.5M488.95 548.5h-1.5M508.57 624.37v1.5M534.67 624.37v1.5M560.77 624.37v1.5M586.88 624.37v1.5M612.98 624.37v1.5M639.08 624.37v1.5M665.18 624.37v1.5" stroke="#000" stroke-width="0.8" fill="none"/>
</g>
<g>
<clipPath id="c19"><rect x="20.7" y="675.35" width="195.05" height="81.47"/></clipPath>
<g class="b" clip-path="url(#c19)">
<rect x="29.57" y="703.33" width="20.86" height="56.49" fill="#bebada"/>
<rect x="29.57" y="695.44" width="20.86" height="7.88" fill="#ffffb3"/>
<rect x="29.57" y="685.5" width="20.86" height="9.95" fill="#8dd3c7"/>
<rect x="55.64" y="702.48" width="20.86" height="57.34" fill="#bebada"/>
<rect x="55.64" y="694.96" width="20.86" height="7.52" fill="#ffffb3"/>
<rect x="55.64" y="686.1" width="20.86" height="8.85" fill="#8dd3c7"/>
<rect x="81.72" y="710.73" width="20.86" height="49.09" fill="#bebada"/>
<rect x="81.72" y="706.6" width="20.86" height="4.12" fill="#ffffb3"/>
<rect x="81.72" y="695.44" width="20.86" height="11.16" fill="#8dd3c7"/>
<rect x="107.79" y="706.97" width="20.86" height="52.85" fill="#ffffb3"/>
<rect x="107.79" y="693.99" width="20.86" height="12.98" fill="#8dd3c7"/>
<rect x="133.87" y="706" width="20.86" height="53.82" fill="#ffffb3"/>
<rect x="133.87" y="691.44" width="20.86" height="14.56" fill="#8dd3c7"/>
<rect x="159.95" y="709.76" width="20.86" height="50.06" fill="#ffffb3"/>
<rect x="159.95" y="695.68" width="20.86" height="14.07" fill="#8dd3c7"/>
<rect x="186.02" y="748.09" width="20.86" height="11.73" fill="#ffffb3"/>
<rect x="186.02" y="702.72" width="20.86" height="45.37" fill="#8dd3c7"/>
</g>
<rect x="20.7" y="675.35" width="195.05" height="81.47" fill="none" stroke="#000" stroke-width="1.2"/>
<path d="M20.4 756.82h-1.5M20.4 744.69h-1.5M20.4 732.56h-1.5M20.4 720.43h-1.5M20.4 708.3h-1.5M20.4 696.17h-1.5M20.4 684.04h-1.5M40 757.12v1.5M66.07 757.12v1.5M92.15 757.12v1.5M118.23 757.12v1.5M144.3 757.12v1.5M170.38 757.12v1.5M196.45 757.12v1.5" stroke="#000" stroke-width="0.8" fill="none"/>
</g>
<g>
<clipPath id="c20"><rect x="254.9" y="675.35" width="195.2" height="81.47"/></clipPath>
<g class="b" clip-path="url(#c20)">
<rect x="263.77" y="709.15" width="20.88" height="50.67" fill="#bebada"/>
<rect x="263.77" y="692.65" width="20.88" height="16.5" fill="#ffffb3"/>
<rect x="263.77" y="684.16" width="20.88" height="8.49" fill="#8dd3c7"/>
<rect x="289.87" y="708.54" width="20.88" height="51.28" fill="#bebada"/>
<rect x="289.87" y="692.65" width="20.88" height="15.89" fill="#ffffb3"/>
<rect x="289.87" y="684.65" width="20.88" height="8.01" fill="#8dd3c7"/>
<rect x="315.97" y="712.06" width="20.88" height="47.76" fill="#bebada"/>
<rect x="315.97" y="704.54" width="20.88" height="7.52" fill="#ffffb3"/>
<rect x="315.97" y="694.59" width="20.88" height="9.95" fill="#8dd3c7"/>
<rect x="342.06" y="704.18" width="20.88" height="55.64" fill="#ffffb3"/>
<rect x="342.06" y="691.44" width="20.88" height="12.74" fill="#8dd3c7"/>
<rect x="368.16" y="703.33" width="20.88" height="56.49" fill="#ffffb3"/>
<rect x="368.16" y="690.47" width="20.88" height="12.86" fill="#8dd3c7"/>
<rect x="394.25" y="706.84" width="20.88" height="52.98" fill="#ffffb3"/>
<rect x="394.25" y="693.74" width="20.88" height="13.1" fill="#8dd3c7"/>
<rect x="420.35" y="745.42" width="20.88" height="14.4" fill="#ffffb3"/>
<rect x="420.35" y="700.42" width="20.88" height="45" fill="#8dd3c7"/>
</g>
<rect x="254.9" y="675.35" width="195.2" height="81.47" fill="none" stroke="#000" stroke-width="1.2"/>
<path d="M254.6 756.82h-1.5M254.6 744.69h-1.5M254.6 732.56h-1.5M254.6 720.43h-1.5M254.6 708.3h-1.5M254.6 696.17h-1.5M254.6 684.04h-1.5M274.21 757.12v1.5M300.31 757.12v1.5M326.4 757.12v1.5M352.5 757.12v1.5M378.6 757.12v1.5M404.69 757.12v1.5M430.79 757.12v1.5" stroke="#000" stroke-width="0.8" fill="none"/>
</g>
<g>
<clipPath id="c21"><rect x="489.25" y="675.35" width="195.25" height="81.47"/></clipPath>
<g class="b" clip-path="url(#c21)">
<rect x="498.12" y="706" width="20.88" height="53.82" fill="#bebada"/>
<rect x="498.12" y="692.65" width="20.88" height="13.34" fill="#ffffb3"/>
<rect x="498.12" y="684.16" width="20.88" height="8.49" fill="#8dd3c7"/>
<rect x="524.23" y="704.54" width="20.88" height="55.28" fill="#bebada"/>
<rect x="524.23" y="691.68" width="20.88" height="12.86" fill="#ffffb3"/>
<rect x="524.23" y="684.04" width="20.88" height="7.64" fill="#8dd3c7"/>
<rect x="550.33" y="711.94" width="20.88" height="47.88" fill="#bebada"/>
<rect x="550.33" y="705.02" width="20.88" height="6.91" fill="#ffffb3"/>
<rect x="550.33" y="694.59" width="20.88" height="10.43" fill="#8dd3c7"/>
<rect x="576.43" y="703.57" width="20.88" height="56.25" fill="#ffffb3"/>
<rect x="576.43" y="691.44" width="20.88" height="12.13" fill="#8dd3c7"/>
<rect x="602.54" y="703.57" width="20.88" height="56.25" fill="#ffffb3"/>
<rect x="602.54" y="690.47" width="20.88" height="13.1" fill="#8dd3c7"/>
<rect x="628.64" y="708.06" width="20.88" height="51.76" fill="#ffffb3"/>
<rect x="628.64" y="693.99" width="20.88" height="14.07" fill="#8dd3c7"/>
<rect x="654.74" y="746.27" width="20.88" height="13.55" fill="#ffffb3"/>
<rect x="654.74" y="701.87" width="20.88" height="44.4" fill="#8dd3c7"/>
</g>
<rect x="489.25" y="675.35" width="195.25" height="81.47" fill="none" stroke="#000" stroke-width="1.2"/>
<path d="M488.95 756.82h-1.5M488.95 744.69h-1.5M488.95 732.56h-1.5M488.95 720.43h-1.5M488.95 708.3h-1.5M488.95 696.17h-1.5M488.95 684.04h-1.5M508.57 757.12v1.5M534.67 757.12v1.5M560.77 757.12v1.5M586.88 757.12v1.5M612.98 757.12v1.5M639.08 757.12v1.5M665.18 757.12v1.5" stroke="#000" stroke-width="0.8" fill="none"/>
</g>
<g>
<clipPath id="c22"><rect x="20.7" y="773.46" width="195.05" height="81.27"/></clipPath>
<g class="b" clip-path="url(#c22)">
<rect x="29.57" y="786.62" width="20.86" height="71.11" fill="#bebada"/>
<rect x="29.57" y="783.46" width="20.86" height="3.15" fill="#ffffb3"/>
<rect x="29.57" y="777.52" width="20.86" height="5.94" fill="#8dd3c7"/>
<rect x="55.64" y="788.44" width="20.86" height="69.29" fill="#bebada"/>
<rect x="55.64" y="784.92" width="20.86" height="3.52" fill="#ffffb3"/>
<rect x="55.64" y="779.58" width="20.86" height="5.34" fill="#8dd3c7"/>
<rect x="81.72" y="798.14" width="20.86" height="59.59" fill="#bebada"/>
<rect x="81.72" y="786.37" width="20.86" height="11.77" fill="#ffffb3"/>
<rect x="81.72" y="780.31" width="20.86" height="6.06" fill="#8dd3c7"/>
<rect x="107.79" y="786.37" width="20.86" height="71.36" fill="#ffffb3"/>
<rect x="107.79" y="779.34" width="20.86" height="7.04" fill="#8dd3c7"/>
<rect x="133.87" y="792.32" width="20.86" height="65.41" fill="#ffffb3"/>
<rect x="133.87" y="779.58" width="20.86" height="12.74" fill="#8dd3c7"/>
<rect x="159.95" y="800.08" width="20.86" height="57.65" fill="#ffffb3"/>
<rect x="159.95" y="790.62" width="20.86" height="9.46" fill="#8dd3c7"/>
<rect x="186.02" y="838.78" width="20.86" height="18.95" fill="#ffffb3"/>
<rect x="186.02" y="793.29" width="20.86" height="45.49" fill="#8dd3c7"/>
</g>
<rect x="20.7" y="773.46" width="195.05" height="81.27" fill="none" stroke="#000" stroke-width="1.2"/>
<path d="M20.4 854.73h-1.5M20.4 842.6h-1.5M20.4 830.47h-1.5M20.4 818.34h-1.5M20.4 806.21h-1.5M20.4 794.08h-1.5M20.4 781.95h-1.5M40 855.03v1.5M66.07 855.03v1.5M92.15 855.03v1.5M118.23 855.03v1.5M144.3 855.03v1.5M170.38 855.03v1.5M196.45 855.03v1.5" stroke="#000" stroke-width="0.8" fill="none"/>
</g>
<g>
<clipPath id="c23"><rect x="254.9" y="773.46" width="195.2" height="81.27"/></clipPath>
<g class="b" clip-path="url(#c23)">
<rect x="263.77" y="789.41" width="20.88" height="68.32" fill="#bebada"/>
<rect x="263.77" y="783.71" width="20.88" height="5.7" fill="#ffffb3"/>
<rect x="263.77" y="778.13" width="20.88" height="5.58" fill="#8dd3c7"/>
<rect x="289.87" y="791.35" width="20.88" height="66.38" fill="#bebada"/>
<rect x="289.87" y="785.16" width="20.88" height="6.19" fill="#ffffb3"/>
<rect x="289.87" y="779.58" width="20.88" height="5.58" fill="#8dd3c7"/>
<rect x="315.97" y="807.36" width="20.88" height="50.37" fill="#bebada"/>
<rect x="315.97" y="786.01" width="20.88" height="21.35" fill="#ffffb3"/>
<rect x="315.97" y="780.19" width="20.88" height="5.82" fill="#8dd3c7"/>
<rect x="342.06" y="786.62" width="20.88" height="71.11" fill="#ffffb3"/>
<rect x="342.06" y="779.58" width="20.88" height="7.04" fill="#8dd3c7"/>
<rect x="368.16" y="792.2" width="20.88" height="65.53" fill="#ffffb3"/>
<rect x="368.16" y="779.34" width="20.88" height="12.86" fill="#8dd3c7"/>
<rect x="394.25" y="800.69" width="20.88" height="57.04" fill="#ffffb3"/>
<rect x="394.25" y="790.86" width="20.88" height="9.83" fill="#8dd3c7"/>
<rect x="420.35" y="843.02" width="20.88" height="14.71" fill="#ffffb3"/>
<rect x="420.35" y="801.54" width="20.88" height="41.48" fill="#8dd3c7"/>
</g>
<rect x="254.9" y="773.46" width="195.2" height="81.27" fill="none" stroke="#000" stroke-width="1.2"/>
<path d="M254.6 854.73h-1.5M254.6 842.6h-1.5M254.6 830.47h-1.5M254.6 818.34h-1.5M254.6 806.21h-1.5M254.6 794.08h-1.5M254.6 781.95h-1.5M274.21 855.03v1.5M300.31 855.03v1.5M326.4 855.03v1.5M352.5 855.03v1.5M378.6 855.03v1.5M404.69 855.03v1.5M430.79 855.03v1.5" stroke="#000" stroke-width="0.8" fill="none"/>
</g>
<g>
<clipPath id="c24"><rect x="489.25" y="773.46" width="195.25" height="81.27"/></clipPath>
<g class="b" clip-path="url(#c24)">
<rect x="498.12" y="789.65" width="20.88" height="68.08" fill="#bebada"/>
<rect x="498.12" y="781.4" width="20.88" height="8.25" fill="#ffffb3"/>
<rect x="498.12" y="777.03" width="20.88" height="4.37" fill="#8dd3c7"/>
<rect x="524.23" y="790.38" width="20.88" height="67.35" fill="#bebada"/>
<rect x="524.23" y="782.49" width="20.88" height="7.88" fill="#ffffb3"/>
<rect x="524.23" y="777.52" width="20.88" height="4.97" fill="#8dd3c7"/>
<rect x="550.33" y="803.23" width="20.88" height="54.5" fill="#bebada"/>
<rect x="550.33" y="786.37" width="20.88" height="16.86" fill="#ffffb3"/>
<rect x="550.33" y="780.55" width="20.88" height="5.82" fill="#8dd3c7"/>
<rect x="576.43" y="785.77" width="20.88" height="71.96" fill="#ffffb3"/>
<rect x="576.43" y="778.97" width="20.88" height="6.79" fill="#8dd3c7"/>
<rect x="602.54" y="791.35" width="20.88" height="66.38" fill="#ffffb3"/>
<rect x="602.54" y="778.73" width="20.88" height="12.62" fill="#8dd3c7"/>
<rect x="628.64" y="798.38" width="20.88" height="59.35" fill="#ffffb3"/>
<rect x="628.64" y="788.92" width="20.88" height="9.46" fill="#8dd3c7"/>
<rect x="654.74" y="840.72" width="20.88" height="17.01" fill="#ffffb3"/>
<rect x="654.74" y="795.35" width="20.88" height="45.37" fill="#8dd3c7"/>
</g>
<rect x="489.25" y="773.46" width="195.25" height="81.27" fill="none" stroke="#000" stroke-width="1.2"/>
<path d="M488.95 854.73h-1.5M488.95 842.6h-1.5M488.95 830.47h-1.5M488.95 818.34h-1.5M488.95 806.21h-1.5M488.95 794.08h-1.5M488.95 781.95h-1.5M508.57 855.03v1.5M534.67 855.03v1.5M560.77 855.03v1.5M586.88 855.03v1.5M612.98 855.03v1.5M639.08 855.03v1.5M665.18 855.03v1.5" stroke="#000" stroke-width="0.8" fill="none"/>
</g>
<g>
<clipPath id="c25"><rect x="20.7" y="871.02" width="195.05" height="81.28"/></clipPath>
<g class="b" clip-path="url(#c25)">
<rect x="29.57" y="883.89" width="20.86" height="71.41" fill="#bebada"/>
<rect x="29.57" y="880.37" width="20.86" height="3.52" fill="#ffffb3"/>
<rect x="29.57" y="875.15" width="20.86" height="5.22" fill="#8dd3c7"/>
<rect x="55.64" y="886.19" width="20.86" height="69.11" fill="#bebada"/>
<rect x="55.64" y="882.8" width="20.86" height="3.4" fill="#ffffb3"/>
<rect x="55.64" y="877.46" width="20.86" height="5.34" fill="#8dd3c7"/>
<rect x="81.72" y="895.05" width="20.86" height="60.25" fill="#bebada"/>
<rect x="81.72" y="883.04" width="20.86" height="12.01" fill="#ffffb3"/>
<rect x="81.72" y="877.46" width="20.86" height="5.58" fill="#8dd3c7"/>
<rect x="107.79" y="883.28" width="20.86" height="72.02" fill="#ffffb3"/>
<rect x="107.79" y="877.46" width="20.86" height="5.82" fill="#8dd3c7"/>
<rect x="133.87" y="890.07" width="20.86" height="65.23" fill="#ffffb3"/>
<rect x="133.87" y="876.85" width="20.86" height="13.22" fill="#8dd3c7"/>
<rect x="159.95" y="897.11" width="20.86" height="58.19" fill="#ffffb3"/>
<rect x="159.95" y="888.01" width="20.86" height="9.1" fill="#8dd3c7"/>
<rect x="186.02" y="937.14" width="20.86" height="18.16" fill="#ffffb3"/>
<rect x="186.02" y="892.14" width="20.86" height="45" fill="#8dd3c7"/>
</g>
<rect x="20.7" y="871.02" width="195.05" height="81.28" fill="none" stroke="#000" stroke-width="1.2"/>
<path d="M20.4 952.55h-1.5M20.4 940.42h-1.5M20.4 928.29h-1.5M20.4 916.16h-1.5M20.4 904.03h-1.5M20.4 891.9h-1.5M20.4 879.77h-1.5M40 952.6v1.5M66.07 952.6v1.5M92.15 952.6v1.5M118.23 952.6v1.5M144.3 952.6v1.5M170.38 952.6v1.5M196.45 952.6v1.5" stroke="#000" stroke-width="0.8" fill="none"/>
</g>
<g>
<clipPath id="c26"><rect x="254.9" y="871.02" width="195.2" height="81.28"/></clipPath>
<g class="b" clip-path="url(#c26)">
<rect x="263.77" y="886.19" width="20.88" height="69.11" fill="#bebada"/>
<rect x="263.77" y="880.61" width="20.88" height="5.58" fill="#ffffb3"/>
<rect x="263.77" y="875.76" width="20.88" height="4.85" fill="#8dd3c7"/>
<rect x="289.87" y="887.65" width="20.88" height="67.65" fill="#bebada"/>
<rect x="289.87" y="882.43" width="20.88" height="5.22" fill="#ffffb3"/>
<rect x="289.87" y="877.22" width="20.88" height="5.22" fill="#8dd3c7"/>
<rect x="315.97" y="906.45" width="20.88" height="48.85" fill="#bebada"/>
<rect x="315.97" y="882.43" width="20.88" height="24.02" fill="#ffffb3"/>
<rect x="315.97" y="877.09" width="20.88" height="5.34" fill="#8dd3c7"/>
<rect x="342.06" y="883.89" width="20.88" height="71.41" fill="#ffffb3"/>
<rect x="342.06" y="877.46" width="20.88" height="6.43" fill="#8dd3c7"/>
<rect x="368.16" y="889.71" width="20.88" height="65.59" fill="#ffffb3"/>
<rect x="368.16" y="877.22" width="20.88" height="12.49" fill="#8dd3c7"/>
<rect x="394.25" y="898.2" width="20.88" height="57.1" fill="#ffffb3"/>
<rect x="394.25" y="889.47" width="20.88" height="8.73" fill="#8dd3c7"/>
<rect x="420.35" y="947.33" width="20.88" height="7.97" fill="#ffffb3"/>
<rect x="420.35" y="914.33" width="20.88" height="32.99" fill="#8dd3c7"/>
</g>
<rect x="254.9" y="871.02" width="195.2" height="81.28" fill="none" stroke="#000" stroke-width="1.2"/>
<path d="M254.6 952.55h-1.5M254.6 940.42h-1.5M254.6 928.29h-1.5M254.6 916.16h-1.5M254.6 904.03h-1.5M254.6 891.9h-1.5M254.6 879.77h-1.5M274.21 952.6v1.5M300.31 952.6v1.5M326.4 952.6v1.5M352.5 952.6v1.5M378.6 952.6v1.5M404.69 952.6v1.5M430.79 952.6v1.5" stroke="#000" stroke-width="0.8" fill="none"/>
</g>
<g>
<clipPath id="c27"><rect x="489.25" y="871.02" width="195.25" height="81.28"/></clipPath>
<g class="b" clip-path="url(#c27)">
<rect x="498.12" y="884.25" width="20.88" height="71.05" fill="#bebada"/>
<rect x="498.12" y="878.91" width="20.88" height="5.34" fill="#ffffb3"/>
<rect x="498.12" y="874.67" width="20.88" height="4.25" fill="#8dd3c7"/>
<rect x="524.23" y="885.34" width="20.88" height="69.96" fill="#bebada"/>
<rect x="524.23" y="879.76" width="20.88" height="5.58" fill="#ffffb3"/>
<rect x="524.23" y="875.15" width="20.88" height="4.61" fill="#8dd3c7"/>
<rect x="550.33" y="900.14" width="20.88" height="55.16" fill="#bebada"/>
<rect x="550.33" y="881.82" width="20.88" height="18.32" fill="#ffffb3"/>
<rect x="550.33" y="876.61" width="20.88" height="5.22" fill="#8dd3c7"/>
<rect x="576.43" y="882.19" width="20.88" height="73.11" fill="#ffffb3"/>
<rect x="576.43" y="876.49" width="20.88" height="5.7" fill="#8dd3c7"/>
<rect x="602.54" y="888.5" width="20.88" height="66.8" fill="#ffffb3"/>
<rect x="602.54" y="876.49" width="20.88" height="12.01" fill="#8dd3c7"/>
<rect x="628.64" y="895.05" width="20.88" height="60.25" fill="#ffffb3"/>
<rect x="628.64" y="886.8" width="20.88" height="8.25" fill="#8dd3c7"/>
<rect x="654.74" y="936.17" width="20.88" height="19.13" fill="#ffffb3"/>
<rect x="654.74" y="891.53" width="20.88" height="44.64" fill="#8dd3c7"/>
</g>
<rect x="489.25" y="871.02" width="195.25" height="81.28" fill="none" stroke="#000" stroke-width="1.2"/>
<path d="M488.95 952.55h-1.5M488.95 940.42h-1.5M488.95 928.29h-1.5M488.95 916.16h-1.5M488.95 904.03h-1.5M488.95 891.9h-1.5M488.95 879.77h-1.5M508.57 952.6v1.5M534.67 952.6v1.5M560.77 952.6v1.5M586.88 952.6v1.5M612.98 952.6v1.5M639.08 952.6v1.5M665.18 952.6v1.5" stroke="#000" stroke-width="0.8" fill="none"/>
</g>
<filter id="tb" x="0" y="0" width="685" height="966" filterUnits="userSpaceOnUse"><feConvolveMatrix order="3" kernelMatrix="0.0056 0.0638 0.0056 0.0638 0.7225 0.0638 0.0056 0.0638 0.0056" divisor="1" edgeMode="none"/></filter>
<g filter="url(#tb)">
<text class="p" transform="translate(-1.6 5.8) matrix(1 0.002 0 1 0 0)">a</text>
<text class="p" transform="translate(-1.2 333.8) matrix(1 0.002 0 1 0 0)">b</text>
<text class="p" transform="translate(-1.8 662.9) matrix(1 0.002 0 1 0 0)">c</text>
<text class="v" transform="translate(40 50.08) matrix(1 0.002 0 1 0 0)">0.607</text>
<text class="v" transform="translate(40 42.2) matrix(1 0.002 0 1 0 0)">0.672</text>
<text class="v" transform="translate(40 30.79) matrix(1 0.002 0 1 0 0)">0.766</text>
<text class="v" transform="translate(66.07 50.08) matrix(1 0.002 0 1 0 0)">0.607</text>
<text class="v" transform="translate(66.07 42.8) matrix(1 0.002 0 1 0 0)">0.667</text>
<text class="v" transform="translate(66.07 31.4) matrix(1 0.002 0 1 0 0)">0.761</text>
<text class="v" transform="translate(92.15 57.97) matrix(1 0.002 0 1 0 0)">0.542</text>
<text class="v" transform="translate(92.15 54.21) matrix(1 0.002 0 1 0 0)">0.573</text>
<text class="v" transform="translate(92.15 41.59) matrix(1 0.002 0 1 0 0)">0.677</text>
<text class="v" transform="translate(118.23 51.78) matrix(1 0.002 0 1 0 0)">0.593</text>
<text class="v" transform="translate(118.23 36.01) matrix(1 0.002 0 1 0 0)">0.723</text>
<text class="v" transform="translate(144.3 61.12) matrix(1 0.002 0 1 0 0)">0.516</text>
<text class="v" transform="translate(144.3 39.77) matrix(1 0.002 0 1 0 0)">0.692</text>
<text class="v" transform="translate(170.38 61.85) matrix(1 0.002 0 1 0 0)">0.51</text>
<text class="v" transform="translate(170.38 44.5) matrix(1 0.002 0 1 0 0)">0.653</text>
<text class="v" transform="translate(196.45 96.78) matrix(1 0.002 0 1 0 0)">0.222</text>
<text class="v" transform="translate(196.45 50.81) matrix(1 0.002 0 1 0 0)">0.601</text>
<text class="y" transform="translate(17.7 101.8) matrix(1 0.002 0 1 0 0)">0.2</text>
<text class="y" transform="translate(17.7 89.67) matrix(1 0.002 0 1 0 0)">0.3</text>
<text class="y" transform="translate(17.7 77.54) matrix(1 0.002 0 1 0 0)">0.4</text>
<text class="y" transform="translate(17.7 65.41) matrix(1 0.002 0 1 0 0)">0.5</text>
<text class="y" transform="translate(17.7 53.28) matrix(1 0.002 0 1 0 0)">0.6</text>
<text class="y" transform="translate(17.7 41.15) matrix(1 0.002 0 1 0 0)">0.7</text>
<text class="y" transform="translate(17.7 29.02) matrix(1 0.002 0 1 0 0)">0.8</text>
<text class="t" transform="translate(117.92 16.1) matrix(1 0.002 0 1 0 0)">8X HG001</text>
<text class="yl" transform="translate(6.8 59.23) rotate(-90) matrix(1 0.002 0 1 0 0)">F1-score</text>
<text class="v" transform="translate(274.21 55.3) matrix(1 0.002 0 1 0 0)">0.564</text>
<text class="v" transform="translate(274.21 40.98) matrix(1 0.002 0 1 0 0)">0.682</text>
<text class="v" transform="translate(274.21 30.31) matrix(1 0.002 0 1 0 0)">0.77</text>
<text class="v" transform="translate(300.31 54.69) matrix(1 0.002 0 1 0 0)">0.569</text>
<text class="v" transform="translate(300.31 40.98) matrix(1 0.002 0 1 0 0)">0.682</text>
<text class="v" transform="translate(300.31 31.04) matrix(1 0.002 0 1 0 0)">0.764</text>
<text class="v" transform="translate(326.4 61.12) matrix(1 0.002 0 1 0 0)">0.516</text>
<text class="v" transform="translate(326.4 53.84) matrix(1 0.002 0 1 0 0)">0.576</text>
<text class="v" transform="translate(326.4 42.2) matrix(1 0.002 0 1 0 0)">0.672</text>
<text class="v" transform="translate(352.5 50.08) matrix(1 0.002 0 1 0 0)">0.607</text>
<text class="v" transform="translate(352.5 34.55) matrix(1 0.002 0 1 0 0)">0.735</text>
<text class="v" transform="translate(378.6 60.88) matrix(1 0.002 0 1 0 0)">0.518</text>
<text class="v" transform="translate(378.6 40.13) matrix(1 0.002 0 1 0 0)">0.689</text>
<text class="v" transform="translate(404.69 60.88) matrix(1 0.002 0 1 0 0)">0.518</text>
<text class="v" transform="translate(404.69 44.74) matrix(1 0.002 0 1 0 0)">0.651</text>
<text class="v" transform="translate(430.79 95.08) matrix(1 0.002 0 1 0 0)">0.236</text>
<text class="v" transform="translate(430.79 49.47) matrix(1 0.002 0 1 0 0)">0.612</text>
<text class="y" transform="translate(251.9 101.8) matrix(1 0.002 0 1 0 0)">0.2</text>
<text class="y" transform="translate(251.9 89.67) matrix(1 0.002 0 1 0 0)">0.3</text>
<text class="y" transform="translate(251.9 77.54) matrix(1 0.002 0 1 0 0)">0.4</text>
<text class="y" transform="translate(251.9 65.41) matrix(1 0.002 0 1 0 0)">0.5</text>
<text class="y" transform="translate(251.9 53.28) matrix(1 0.002 0 1 0 0)">0.6</text>
<text class="y" transform="translate(251.9 41.15) matrix(1 0.002 0 1 0 0)">0.7</text>
<text class="y" transform="translate(251.9 29.02) matrix(1 0.002 0 1 0 0)">0.8</text>
<text class="t" transform="translate(352.2 16.1) matrix(1 0.002 0 1 0 0)">8X HG002</text>
<text class="yl" transform="translate(241 59.23) rotate(-90) matrix(1 0.002 0 1 0 0)">F1-score</text>
<text class="v" transform="translate(508.57 51.78) matrix(1 0.002 0 1 0 0)">0.593</text>
<text class="v" transform="translate(508.57 39.53) matrix(1 0.002 0 1 0 0)">0.694</text>
<text class="v" transform="translate(508.57 28.97) matrix(1 0.002 0 1 0 0)">0.781</text>
<text class="v" transform="translate(534.67 50.81) matrix(1 0.002 0 1 0 0)">0.601</text>
<text class="v" transform="translate(534.67 39.29) matrix(1 0.002 0 1 0 0)">0.696</text>
<text class="v" transform="translate(534.67 29.95) matrix(1 0.002 0 1 0 0)">0.773</text>
<text class="v" transform="translate(560.77 58.81) matrix(1 0.002 0 1 0 0)">0.535</text>
<text class="v" transform="translate(560.77 52.26) matrix(1 0.002 0 1 0 0)">0.589</text>
<text class="v" transform="translate(560.77 40.98) matrix(1 0.002 0 1 0 0)">0.682</text>
<text class="v" transform="translate(586.88 48.02) matrix(1 0.002 0 1 0 0)">0.624</text>
<text class="v" transform="translate(586.88 33.1) matrix(1 0.002 0 1 0 0)">0.747</text>
<text class="v" transform="translate(612.98 58.09) matrix(1 0.002 0 1 0 0)">0.541</text>
<text class="v" transform="translate(612.98 37.83) matrix(1 0.002 0 1 0 0)">0.708</text>
<text class="v" transform="translate(639.08 59.66) matrix(1 0.002 0 1 0 0)">0.528</text>
<text class="v" transform="translate(639.08 43.29) matrix(1 0.002 0 1 0 0)">0.663</text>
<text class="v" transform="translate(665.18 93.87) matrix(1 0.002 0 1 0 0)">0.246</text>
<text class="v" transform="translate(665.18 48.63) matrix(1 0.002 0 1 0 0)">0.619</text>
<text class="y" transform="translate(486.25 101.8) matrix(1 0.002 0 1 0 0)">0.2</text>
<text class="y" transform="translate(486.25 89.67) matrix(1 0.002 0 1 0 0)">0.3</text>
<text class="y" transform="translate(486.25 77.54) matrix(1 0.002 0 1 0 0)">0.4</text>
<text class="y" transform="translate(486.25 65.41) matrix(1 0.002 0 1 0 0)">0.5</text>
<text class="y" transform="translate(486.25 53.28) matrix(1 0.002 0 1 0 0)">0.6</text>
<text class="y" transform="translate(486.25 41.15) matrix(1 0.002 0 1 0 0)">0.7</text>
<text class="y" transform="translate(486.25 29.02) matrix(1 0.002 0 1 0 0)">0.8</text>
<text class="t" transform="translate(586.58 16.1) matrix(1 0.002 0 1 0 0)">8X HG00733</text>
<text class="yl" transform="translate(475.35 59.23) rotate(-90) matrix(1 0.002 0 1 0 0)">F1-score</text>
<text class="v" transform="translate(40 131.29) matrix(1 0.002 0 1 0 0)">0.745</text>
<text class="v" transform="translate(40 127.53) matrix(1 0.002 0 1 0 0)">0.776</text>
<text class="v" transform="translate(40 121.1) matrix(1 0.002 0 1 0 0)">0.829</text>
<text class="v" transform="translate(66.07 133.11) matrix(1 0.002 0 1 0 0)">0.73</text>
<text class="v" transform="translate(66.07 129.59) matrix(1 0.002 0 1 0 0)">0.759</text>
<text class="v" transform="translate(66.07 123.16) matrix(1 0.002 0 1 0 0)">0.812</text>
<text class="v" transform="translate(92.15 142.81) matrix(1 0.002 0 1 0 0)">0.65</text>
<text class="v" transform="translate(92.15 132.02) matrix(1 0.002 0 1 0 0)">0.739</text>
<text class="v" transform="translate(92.15 124.5) matrix(1 0.002 0 1 0 0)">0.801</text>
<text class="v" transform="translate(118.23 131.66) matrix(1 0.002 0 1 0 0)">0.742</text>
<text class="v" transform="translate(118.23 122.92) matrix(1 0.002 0 1 0 0)">0.814</text>
<text class="v" transform="translate(144.3 145.36) matrix(1 0.002 0 1 0 0)">0.629</text>
<text class="v" transform="translate(144.3 123.77) matrix(1 0.002 0 1 0 0)">0.807</text>
<text class="v" transform="translate(170.38 154.1) matrix(1 0.002 0 1 0 0)">0.557</text>
<text class="v" transform="translate(170.38 141.72) matrix(1 0.002 0 1 0 0)">0.659</text>
<text class="v" transform="translate(196.45 188.3) matrix(1 0.002 0 1 0 0)">0.275</text>
<text class="v" transform="translate(196.45 139.78) matrix(1 0.002 0 1 0 0)">0.675</text>
<text class="y" transform="translate(17.7 199.6) matrix(1 0.002 0 1 0 0)">0.2</text>
<text class="y" transform="translate(17.7 187.47) matrix(1 0.002 0 1 0 0)">0.3</text>
<text class="y" transform="translate(17.7 175.34) matrix(1 0.002 0 1 0 0)">0.4</text>
<text class="y" transform="translate(17.7 163.21) matrix(1 0.002 0 1 0 0)">0.5</text>
<text class="y" transform="translate(17.7 151.08) matrix(1 0.002 0 1 0 0)">0.6</text>
<text class="y" transform="translate(17.7 138.95) matrix(1 0.002 0 1 0 0)">0.7</text>
<text class="y" transform="translate(17.7 126.82) matrix(1 0.002 0 1 0 0)">0.8</text>
<text class="t" transform="translate(117.92 114.1) matrix(1 0.002 0 1 0 0)">20X HG001</text>
<text class="yl" transform="translate(6.8 157.2) rotate(-90) matrix(1 0.002 0 1 0 0)">F1-score</text>
<text class="v" transform="translate(274.21 135.17) matrix(1 0.002 0 1 0 0)">0.713</text>
<text class="v" transform="translate(274.21 128.99) matrix(1 0.002 0 1 0 0)">0.764</text>
<text class="v" transform="translate(274.21 123.16) matrix(1 0.002 0 1 0 0)">0.812</text>
<text class="v" transform="translate(300.31 137.24) matrix(1 0.002 0 1 0 0)">0.696</text>
<text class="v" transform="translate(300.31 131.9) matrix(1 0.002 0 1 0 0)">0.74</text>
<text class="v" transform="translate(300.31 125.83) matrix(1 0.002 0 1 0 0)">0.79</text>
<text class="v" transform="translate(326.4 151.79) matrix(1 0.002 0 1 0 0)">0.576</text>
<text class="v" transform="translate(326.4 132.75) matrix(1 0.002 0 1 0 0)">0.733</text>
<text class="v" transform="translate(326.4 125.47) matrix(1 0.002 0 1 0 0)">0.793</text>
<text class="v" transform="translate(352.5 132.99) matrix(1 0.002 0 1 0 0)">0.731</text>
<text class="v" transform="translate(352.5 124.01) matrix(1 0.002 0 1 0 0)">0.805</text>
<text class="v" transform="translate(378.6 148.27) matrix(1 0.002 0 1 0 0)">0.605</text>
<text class="v" transform="translate(378.6 125.83) matrix(1 0.002 0 1 0 0)">0.79</text>
<text class="v" transform="translate(404.69 157.25) matrix(1 0.002 0 1 0 0)">0.531</text>
<text class="v" transform="translate(404.69 144.03) matrix(1 0.002 0 1 0 0)">0.64</text>
<text class="v" transform="translate(430.79 189.27) matrix(1 0.002 0 1 0 0)">0.267</text>
<text class="v" transform="translate(430.79 142.45) matrix(1 0.002 0 1 0 0)">0.653</text>
<text class="y" transform="translate(251.9 199.6) matrix(1 0.002 0 1 0 0)">0.2</text>
<text class="y" transform="translate(251.9 187.47) matrix(1 0.002 0 1 0 0)">0.3</text>
<text class="y" transform="translate(251.9 175.34) matrix(1 0.002 0 1 0 0)">0.4</text>
<text class="y" transform="translate(251.9 163.21) matrix(1 0.002 0 1 0 0)">0.5</text>
<text class="y" transform="translate(251.9 151.08) matrix(1 0.002 0 1 0 0)">0.6</text>
<text class="y" transform="translate(251.9 138.95) matrix(1 0.002 0 1 0 0)">0.7</text>
<text class="y" transform="translate(251.9 126.82) matrix(1 0.002 0 1 0 0)">0.8</text>
<text class="t" transform="translate(352.2 114.1) matrix(1 0.002 0 1 0 0)">20X HG002</text>
<text class="yl" transform="translate(241 157.2) rotate(-90) matrix(1 0.002 0 1 0 0)">F1-score</text>
<text class="v" transform="translate(508.57 134.81) matrix(1 0.002 0 1 0 0)">0.716</text>
<text class="v" transform="translate(508.57 127.9) matrix(1 0.002 0 1 0 0)">0.773</text>
<text class="v" transform="translate(508.57 121.71) matrix(1 0.002 0 1 0 0)">0.824</text>
<text class="v" transform="translate(534.67 136.63) matrix(1 0.002 0 1 0 0)">0.701</text>
<text class="v" transform="translate(534.67 130.2) matrix(1 0.002 0 1 0 0)">0.754</text>
<text class="v" transform="translate(534.67 123.77) matrix(1 0.002 0 1 0 0)">0.807</text>
<text class="v" transform="translate(560.77 148.27) matrix(1 0.002 0 1 0 0)">0.605</text>
<text class="v" transform="translate(560.77 133.11) matrix(1 0.002 0 1 0 0)">0.73</text>
<text class="v" transform="translate(560.77 124.86) matrix(1 0.002 0 1 0 0)">0.798</text>
<text class="v" transform="translate(586.88 132.26) matrix(1 0.002 0 1 0 0)">0.737</text>
<text class="v" transform="translate(586.88 123.41) matrix(1 0.002 0 1 0 0)">0.81</text>
<text class="v" transform="translate(612.98 146.58) matrix(1 0.002 0 1 0 0)">0.619</text>
<text class="v" transform="translate(612.98 124.86) matrix(1 0.002 0 1 0 0)">0.798</text>
<text class="v" transform="translate(639.08 154.1) matrix(1 0.002 0 1 0 0)">0.557</text>
<text class="v" transform="translate(639.08 141.84) matrix(1 0.002 0 1 0 0)">0.658</text>
<text class="v" transform="translate(665.18 188.79) matrix(1 0.002 0 1 0 0)">0.271</text>
<text class="v" transform="translate(665.18 140.75) matrix(1 0.002 0 1 0 0)">0.667</text>
<text class="y" transform="translate(486.25 199.6) matrix(1 0.002 0 1 0 0)">0.2</text>
<text class="y" transform="translate(486.25 187.47) matrix(1 0.002 0 1 0 0)">0.3</text>
<text class="y" transform="translate(486.25 175.34) matrix(1 0.002 0 1 0 0)">0.4</text>
<text class="y" transform="translate(486.25 163.21) matrix(1 0.002 0 1 0 0)">0.5</text>
<text class="y" transform="translate(486.25 151.08) matrix(1 0.002 0 1 0 0)">0.6</text>
<text class="y" transform="translate(486.25 138.95) matrix(1 0.002 0 1 0 0)">0.7</text>
<text class="y" transform="translate(486.25 126.82) matrix(1 0.002 0 1 0 0)">0.8</text>
<text class="t" transform="translate(586.58 114.1) matrix(1 0.002 0 1 0 0)">20X HG00733</text>
<text class="yl" transform="translate(475.35 157.2) rotate(-90) matrix(1 0.002 0 1 0 0)">F1-score</text>
<text class="v" transform="translate(40 228.46) matrix(1 0.002 0 1 0 0)">0.749</text>
<text class="v" transform="translate(40 224.7) matrix(1 0.002 0 1 0 0)">0.78</text>
<text class="v" transform="translate(40 218.99) matrix(1 0.002 0 1 0 0)">0.827</text>
<text class="v" transform="translate(66.07 230.64) matrix(1 0.002 0 1 0 0)">0.731</text>
<text class="v" transform="translate(66.07 227) matrix(1 0.002 0 1 0 0)">0.761</text>
<text class="v" transform="translate(66.07 221.42) matrix(1 0.002 0 1 0 0)">0.807</text>
<text class="v" transform="translate(92.15 239.86) matrix(1 0.002 0 1 0 0)">0.655</text>
<text class="v" transform="translate(92.15 228.94) matrix(1 0.002 0 1 0 0)">0.745</text>
<text class="v" transform="translate(92.15 222.03) matrix(1 0.002 0 1 0 0)">0.802</text>
<text class="v" transform="translate(118.23 228.94) matrix(1 0.002 0 1 0 0)">0.745</text>
<text class="v" transform="translate(118.23 220.57) matrix(1 0.002 0 1 0 0)">0.814</text>
<text class="v" transform="translate(144.3 242.77) matrix(1 0.002 0 1 0 0)">0.631</text>
<text class="v" transform="translate(144.3 221.42) matrix(1 0.002 0 1 0 0)">0.807</text>
<text class="v" transform="translate(170.38 252.35) matrix(1 0.002 0 1 0 0)">0.552</text>
<text class="v" transform="translate(170.38 240.34) matrix(1 0.002 0 1 0 0)">0.651</text>
<text class="v" transform="translate(196.45 287.17) matrix(1 0.002 0 1 0 0)">0.265</text>
<text class="v" transform="translate(196.45 240.95) matrix(1 0.002 0 1 0 0)">0.646</text>
<text class="y" transform="translate(17.7 297.4) matrix(1 0.002 0 1 0 0)">0.2</text>
<text class="y" transform="translate(17.7 285.27) matrix(1 0.002 0 1 0 0)">0.3</text>
<text class="y" transform="translate(17.7 273.14) matrix(1 0.002 0 1 0 0)">0.4</text>
<text class="y" transform="translate(17.7 261.01) matrix(1 0.002 0 1 0 0)">0.5</text>
<text class="y" transform="translate(17.7 248.88) matrix(1 0.002 0 1 0 0)">0.6</text>
<text class="y" transform="translate(17.7 236.75) matrix(1 0.002 0 1 0 0)">0.7</text>
<text class="y" transform="translate(17.7 224.62) matrix(1 0.002 0 1 0 0)">0.8</text>
<text class="t" transform="translate(117.92 211.8) matrix(1 0.002 0 1 0 0)">40X HG001</text>
<text class="yl" transform="translate(6.8 254.88) rotate(-90) matrix(1 0.002 0 1 0 0)">F1-score</text>
<text class="x" transform="translate(40 302.7) matrix(1 0.002 0 1 0 0)">Duet</text>
<text class="x" transform="translate(40 308.3) matrix(1 0.002 0 1 0 0)">(cuteSV)</text>
<text class="x" transform="translate(66.07 302.7) matrix(1 0.002 0 1 0 0)">Duet</text>
<text class="x" transform="translate(66.07 308.3) matrix(1 0.002 0 1 0 0)">(SVIM)</text>
<text class="x" transform="translate(92.15 302.7) matrix(1 0.002 0 1 0 0)">LongPhase</text>
<text class="x" transform="translate(118.23 302.7) matrix(1 0.002 0 1 0 0)">cuteSV</text>
<text class="x" transform="translate(144.3 302.7) matrix(1 0.002 0 1 0 0)">SVIM</text>
<text class="x" transform="translate(170.38 302.7) matrix(1 0.002 0 1 0 0)">NanoVar</text>
<text class="x" transform="translate(196.45 302.7) matrix(1 0.002 0 1 0 0)">Sniffles</text>
<text class="v" transform="translate(274.21 231) matrix(1 0.002 0 1 0 0)">0.728</text>
<text class="v" transform="translate(274.21 226.39) matrix(1 0.002 0 1 0 0)">0.766</text>
<text class="v" transform="translate(274.21 220.81) matrix(1 0.002 0 1 0 0)">0.812</text>
<text class="v" transform="translate(300.31 233.67) matrix(1 0.002 0 1 0 0)">0.706</text>
<text class="v" transform="translate(300.31 228.94) matrix(1 0.002 0 1 0 0)">0.745</text>
<text class="v" transform="translate(300.31 223.12) matrix(1 0.002 0 1 0 0)">0.793</text>
<text class="v" transform="translate(326.4 249.44) matrix(1 0.002 0 1 0 0)">0.576</text>
<text class="v" transform="translate(326.4 228.94) matrix(1 0.002 0 1 0 0)">0.745</text>
<text class="v" transform="translate(326.4 222.39) matrix(1 0.002 0 1 0 0)">0.799</text>
<text class="v" transform="translate(352.5 229.91) matrix(1 0.002 0 1 0 0)">0.737</text>
<text class="v" transform="translate(352.5 221.42) matrix(1 0.002 0 1 0 0)">0.807</text>
<text class="v" transform="translate(378.6 245.92) matrix(1 0.002 0 1 0 0)">0.605</text>
<text class="v" transform="translate(378.6 222.88) matrix(1 0.002 0 1 0 0)">0.795</text>
<text class="v" transform="translate(404.69 255.63) matrix(1 0.002 0 1 0 0)">0.525</text>
<text class="v" transform="translate(404.69 243.25) matrix(1 0.002 0 1 0 0)">0.627</text>
<text class="v" transform="translate(430.79 289.23) matrix(1 0.002 0 1 0 0)">0.248</text>
<text class="v" transform="translate(430.79 247.14) matrix(1 0.002 0 1 0 0)">0.595</text>
<text class="y" transform="translate(251.9 297.4) matrix(1 0.002 0 1 0 0)">0.2</text>
<text class="y" transform="translate(251.9 285.27) matrix(1 0.002 0 1 0 0)">0.3</text>
<text class="y" transform="translate(251.9 273.14) matrix(1 0.002 0 1 0 0)">0.4</text>
<text class="y" transform="translate(251.9 261.01) matrix(1 0.002 0 1 0 0)">0.5</text>
<text class="y" transform="translate(251.9 248.88) matrix(1 0.002 0 1 0 0)">0.6</text>
<text class="y" transform="translate(251.9 236.75) matrix(1 0.002 0 1 0 0)">0.7</text>
<text class="y" transform="translate(251.9 224.62) matrix(1 0.002 0 1 0 0)">0.8</text>
<text class="t" transform="translate(352.2 211.8) matrix(1 0.002 0 1 0 0)">40X HG002</text>
<text class="yl" transform="translate(241 254.88) rotate(-90) matrix(1 0.002 0 1 0 0)">F1-score</text>
<text class="x" transform="translate(274.21 302.7) matrix(1 0.002 0 1 0 0)">Duet</text>
<text class="x" transform="translate(274.21 308.3) matrix(1 0.002 0 1 0 0)">(cuteSV)</text>
<text class="x" transform="translate(300.31 302.7) matrix(1 0.002 0 1 0 0)">Duet</text>
<text class="x" transform="translate(300.31 308.3) matrix(1 0.002 0 1 0 0)">(SVIM)</text>
<text class="x" transform="translate(326.4 302.7) matrix(1 0.002 0 1 0 0)">LongPhase</text>
<text class="x" transform="translate(352.5 302.7) matrix(1 0.002 0 1 0 0)">cuteSV</text>
<text class="x" transform="translate(378.6 302.7) matrix(1 0.002 0 1 0 0)">SVIM</text>
<text class="x" transform="translate(404.69 302.7) matrix(1 0.002 0 1 0 0)">NanoVar</text>
<text class="x" transform="translate(430.79 302.7) matrix(1 0.002 0 1 0 0)">Sniffles</text>
<text class="v" transform="translate(508.57 229.91) matrix(1 0.002 0 1 0 0)">0.737</text>
<text class="v" transform="translate(508.57 224.94) matrix(1 0.002 0 1 0 0)">0.778</text>
<text class="v" transform="translate(508.57 218.99) matrix(1 0.002 0 1 0 0)">0.827</text>
<text class="v" transform="translate(534.67 232.1) matrix(1 0.002 0 1 0 0)">0.719</text>
<text class="v" transform="translate(534.67 227.12) matrix(1 0.002 0 1 0 0)">0.76</text>
<text class="v" transform="translate(534.67 221.66) matrix(1 0.002 0 1 0 0)">0.805</text>
<text class="v" transform="translate(560.77 243.86) matrix(1 0.002 0 1 0 0)">0.622</text>
<text class="v" transform="translate(560.77 228.7) matrix(1 0.002 0 1 0 0)">0.747</text>
<text class="v" transform="translate(560.77 222.03) matrix(1 0.002 0 1 0 0)">0.802</text>
<text class="v" transform="translate(586.88 228.34) matrix(1 0.002 0 1 0 0)">0.75</text>
<text class="v" transform="translate(586.88 220.57) matrix(1 0.002 0 1 0 0)">0.814</text>
<text class="v" transform="translate(612.98 243.86) matrix(1 0.002 0 1 0 0)">0.622</text>
<text class="v" transform="translate(612.98 222.27) matrix(1 0.002 0 1 0 0)">0.8</text>
<text class="v" transform="translate(639.08 252.96) matrix(1 0.002 0 1 0 0)">0.547</text>
<text class="v" transform="translate(639.08 242.16) matrix(1 0.002 0 1 0 0)">0.636</text>
<text class="v" transform="translate(665.18 284.86) matrix(1 0.002 0 1 0 0)">0.284</text>
<text class="v" transform="translate(665.18 237.8) matrix(1 0.002 0 1 0 0)">0.672</text>
<text class="y" transform="translate(486.25 297.4) matrix(1 0.002 0 1 0 0)">0.2</text>
<text class="y" transform="translate(486.25 285.27) matrix(1 0.002 0 1 0 0)">0.3</text>
<text class="y" transform="translate(486.25 273.14) matrix(1 0.002 0 1 0 0)">0.4</text>
<text class="y" transform="translate(486.25 261.01) matrix(1 0.002 0 1 0 0)">0.5</text>
<text class="y" transform="translate(486.25 248.88) matrix(1 0.002 0 1 0 0)">0.6</text>
<text class="y" transform="translate(486.25 236.75) matrix(1 0.002 0 1 0 0)">0.7</text>
<text class="y" transform="translate(486.25 224.62) matrix(1 0.002 0 1 0 0)">0.8</text>
<text class="t" transform="translate(586.58 211.8) matrix(1 0.002 0 1 0 0)">40X HG00733</text>
<text class="yl" transform="translate(475.35 254.88) rotate(-90) matrix(1 0.002 0 1 0 0)">F1-score</text>
<text class="x" transform="translate(508.57 302.7) matrix(1 0.002 0 1 0 0)">Duet</text>
<text class="x" transform="translate(508.57 308.3) matrix(1 0.002 0 1 0 0)">(cuteSV)</text>
<text class="x" transform="translate(534.67 302.7) matrix(1 0.002 0 1 0 0)">Duet</text>
<text class="x" transform="translate(534.67 308.3) matrix(1 0.002 0 1 0 0)">(SVIM)</text>
<text class="x" transform="translate(560.77 302.7) matrix(1 0.002 0 1 0 0)">LongPhase</text>
<text class="x" transform="translate(586.88 302.7) matrix(1 0.002 0 1 0 0)">cuteSV</text>
<text class="x" transform="translate(612.98 302.7) matrix(1 0.002 0 1 0 0)">SVIM</text>
<text class="x" transform="translate(639.08 302.7) matrix(1 0.002 0 1 0 0)">NanoVar</text>
<text class="x" transform="translate(665.18 302.7) matrix(1 0.002 0 1 0 0)">Sniffles</text>
<text class="v" transform="translate(40 376.22) matrix(1 0.002 0 1 0 0)">0.6</text>
<text class="v" transform="translate(40 370.93) matrix(1 0.002 0 1 0 0)">0.644</text>
<text class="v" transform="translate(40 357.83) matrix(1 0.002 0 1 0 0)">0.753</text>
<text class="v" transform="translate(66.07 377.3) matrix(1 0.002 0 1 0 0)">0.591</text>
<text class="v" transform="translate(66.07 371.77) matrix(1 0.002 0 1 0 0)">0.637</text>
<text class="v" transform="translate(66.07 358.67) matrix(1 0.002 0 1 0 0)">0.746</text>
<text class="v" transform="translate(92.15 387.82) matrix(1 0.002 0 1 0 0)">0.528</text>
<text class="v" transform="translate(92.15 382.83) matrix(1 0.002 0 1 0 0)">0.545</text>
<text class="v" transform="translate(92.15 369.01) matrix(1 0.002 0 1 0 0)">0.66</text>
<text class="v" transform="translate(118.23 379.1) matrix(1 0.002 0 1 0 0)">0.576</text>
<text class="v" transform="translate(118.23 360.95) matrix(1 0.002 0 1 0 0)">0.727</text>
<text class="v" transform="translate(144.3 394.49) matrix(1 0.002 0 1 0 0)">0.448</text>
<text class="v" transform="translate(144.3 368.53) matrix(1 0.002 0 1 0 0)">0.664</text>
<text class="v" transform="translate(170.38 392.45) matrix(1 0.002 0 1 0 0)">0.465</text>
<text class="v" transform="translate(170.38 373.58) matrix(1 0.002 0 1 0 0)">0.622</text>
<text class="v" transform="translate(196.45 425.74) matrix(1 0.002 0 1 0 0)">0.188</text>
<text class="v" transform="translate(196.45 379.83) matrix(1 0.002 0 1 0 0)">0.57</text>
<text class="y" transform="translate(17.7 427) matrix(1 0.002 0 1 0 0)">0.2</text>
<text class="y" transform="translate(17.7 414.98) matrix(1 0.002 0 1 0 0)">0.3</text>
<text class="y" transform="translate(17.7 402.96) matrix(1 0.002 0 1 0 0)">0.4</text>
<text class="y" transform="translate(17.7 390.94) matrix(1 0.002 0 1 0 0)">0.5</text>
<text class="y" transform="translate(17.7 378.92) matrix(1 0.002 0 1 0 0)">0.6</text>
<text class="y" transform="translate(17.7 366.9) matrix(1 0.002 0 1 0 0)">0.7</text>
<text class="y" transform="translate(17.7 354.88) matrix(1 0.002 0 1 0 0)">0.8</text>
<text class="t" transform="translate(117.92 344.65) matrix(1 0.002 0 1 0 0)">8X HG001</text>
<text class="yl" transform="translate(6.8 387.55) rotate(-90) matrix(1 0.002 0 1 0 0)">F1-score</text>
<text class="v" transform="translate(274.21 381.75) matrix(1 0.002 0 1 0 0)">0.554</text>
<text class="v" transform="translate(274.21 370.09) matrix(1 0.002 0 1 0 0)">0.651</text>
<text class="v" transform="translate(274.21 357.83) matrix(1 0.002 0 1 0 0)">0.753</text>
<text class="v" transform="translate(300.31 381.39) matrix(1 0.002 0 1 0 0)">0.557</text>
<text class="v" transform="translate(300.31 370.09) matrix(1 0.002 0 1 0 0)">0.651</text>
<text class="v" transform="translate(300.31 359.87) matrix(1 0.002 0 1 0 0)">0.736</text>
<text class="v" transform="translate(326.4 387.52) matrix(1 0.002 0 1 0 0)">0.506</text>
<text class="v" transform="translate(326.4 383.31) matrix(1 0.002 0 1 0 0)">0.541</text>
<text class="v" transform="translate(326.4 370.93) matrix(1 0.002 0 1 0 0)">0.644</text>
<text class="v" transform="translate(352.5 377.9) matrix(1 0.002 0 1 0 0)">0.586</text>
<text class="v" transform="translate(352.5 360.35) matrix(1 0.002 0 1 0 0)">0.732</text>
<text class="v" transform="translate(378.6 395.33) matrix(1 0.002 0 1 0 0)">0.441</text>
<text class="v" transform="translate(378.6 369.13) matrix(1 0.002 0 1 0 0)">0.659</text>
<text class="v" transform="translate(404.69 393.05) matrix(1 0.002 0 1 0 0)">0.46</text>
<text class="v" transform="translate(404.69 375.02) matrix(1 0.002 0 1 0 0)">0.61</text>
<text class="v" transform="translate(430.79 425.38) matrix(1 0.002 0 1 0 0)">0.191</text>
<text class="v" transform="translate(430.79 379.1) matrix(1 0.002 0 1 0 0)">0.576</text>
<text class="y" transform="translate(251.9 427) matrix(1 0.002 0 1 0 0)">0.2</text>
<text class="y" transform="translate(251.9 414.98) matrix(1 0.002 0 1 0 0)">0.3</text>
<text class="y" transform="translate(251.9 402.96) matrix(1 0.002 0 1 0 0)">0.4</text>
<text class="y" transform="translate(251.9 390.94) matrix(1 0.002 0 1 0 0)">0.5</text>
<text class="y" transform="translate(251.9 378.92) matrix(1 0.002 0 1 0 0)">0.6</text>
<text class="y" transform="translate(251.9 366.9) matrix(1 0.002 0 1 0 0)">0.7</text>
<text class="y" transform="translate(251.9 354.88) matrix(1 0.002 0 1 0 0)">0.8</text>
<text class="t" transform="translate(352.2 344.65) matrix(1 0.002 0 1 0 0)">8X HG002</text>
<text class="yl" transform="translate(241 387.55) rotate(-90) matrix(1 0.002 0 1 0 0)">F1-score</text>
<text class="v" transform="translate(508.57 377.42) matrix(1 0.002 0 1 0 0)">0.59</text>
<text class="v" transform="translate(508.57 367.08) matrix(1 0.002 0 1 0 0)">0.676</text>
<text class="v" transform="translate(508.57 355.91) matrix(1 0.002 0 1 0 0)">0.769</text>
<text class="v" transform="translate(534.67 377.06) matrix(1 0.002 0 1 0 0)">0.593</text>
<text class="v" transform="translate(534.67 367.69) matrix(1 0.002 0 1 0 0)">0.671</text>
<text class="v" transform="translate(534.67 357.23) matrix(1 0.002 0 1 0 0)">0.758</text>
<text class="v" transform="translate(560.77 385.48) matrix(1 0.002 0 1 0 0)">0.523</text>
<text class="v" transform="translate(560.77 380.55) matrix(1 0.002 0 1 0 0)">0.564</text>
<text class="v" transform="translate(560.77 368.29) matrix(1 0.002 0 1 0 0)">0.666</text>
<text class="v" transform="translate(586.88 374.42) matrix(1 0.002 0 1 0 0)">0.615</text>
<text class="v" transform="translate(586.88 357.83) matrix(1 0.002 0 1 0 0)">0.753</text>
<text class="v" transform="translate(612.98 390.4) matrix(1 0.002 0 1 0 0)">0.482</text>
<text class="v" transform="translate(612.98 366) matrix(1 0.002 0 1 0 0)">0.685</text>
<text class="v" transform="translate(639.08 389.56) matrix(1 0.002 0 1 0 0)">0.489</text>
<text class="v" transform="translate(639.08 372.49) matrix(1 0.002 0 1 0 0)">0.631</text>
<text class="v" transform="translate(665.18 421.9) matrix(1 0.002 0 1 0 0)">0.22</text>
<text class="v" transform="translate(665.18 376.46) matrix(1 0.002 0 1 0 0)">0.598</text>
<text class="y" transform="translate(486.25 427) matrix(1 0.002 0 1 0 0)">0.2</text>
<text class="y" transform="translate(486.25 414.98) matrix(1 0.002 0 1 0 0)">0.3</text>
<text class="y" transform="translate(486.25 402.96) matrix(1 0.002 0 1 0 0)">0.4</text>
<text class="y" transform="translate(486.25 390.94) matrix(1 0.002 0 1 0 0)">0.5</text>
<text class="y" transform="translate(486.25 378.92) matrix(1 0.002 0 1 0 0)">0.6</text>
<text class="y" transform="translate(486.25 366.9) matrix(1 0.002 0 1 0 0)">0.7</text>
<text class="y" transform="translate(486.25 354.88) matrix(1 0.002 0 1 0 0)">0.8</text>
<text class="t" transform="translate(586.58 344.65) matrix(1 0.002 0 1 0 0)">8X HG00733</text>
<text class="yl" transform="translate(475.35 387.55) rotate(-90) matrix(1 0.002 0 1 0 0)">F1-score</text>
<text class="v" transform="translate(40 458.33) matrix(1 0.002 0 1 0 0)">0.733</text>
<text class="v" transform="translate(40 455.21) matrix(1 0.002 0 1 0 0)">0.759</text>
<text class="v" transform="translate(40 447.88) matrix(1 0.002 0 1 0 0)">0.82</text>
<text class="v" transform="translate(66.07 462.85) matrix(1 0.002 0 1 0 0)">0.72</text>
<text class="v" transform="translate(66.07 457.25) matrix(1 0.002 0 1 0 0)">0.742</text>
<text class="v" transform="translate(66.07 450.28) matrix(1 0.002 0 1 0 0)">0.8</text>
<text class="v" transform="translate(92.15 469.15) matrix(1 0.002 0 1 0 0)">0.643</text>
<text class="v" transform="translate(92.15 460.14) matrix(1 0.002 0 1 0 0)">0.718</text>
<text class="v" transform="translate(92.15 451.96) matrix(1 0.002 0 1 0 0)">0.786</text>
<text class="v" transform="translate(118.23 459.78) matrix(1 0.002 0 1 0 0)">0.721</text>
<text class="v" transform="translate(118.23 449.56) matrix(1 0.002 0 1 0 0)">0.806</text>
<text class="v" transform="translate(144.3 477.57) matrix(1 0.002 0 1 0 0)">0.573</text>
<text class="v" transform="translate(144.3 451.12) matrix(1 0.002 0 1 0 0)">0.793</text>
<text class="v" transform="translate(170.38 486.7) matrix(1 0.002 0 1 0 0)">0.497</text>
<text class="v" transform="translate(170.38 472.04) matrix(1 0.002 0 1 0 0)">0.619</text>
<text class="v" transform="translate(196.45 517.83) matrix(1 0.002 0 1 0 0)">0.238</text>
<text class="v" transform="translate(196.45 468.31) matrix(1 0.002 0 1 0 0)">0.65</text>
<text class="y" transform="translate(17.7 524.75) matrix(1 0.002 0 1 0 0)">0.2</text>
<text class="y" transform="translate(17.7 512.73) matrix(1 0.002 0 1 0 0)">0.3</text>
<text class="y" transform="translate(17.7 500.71) matrix(1 0.002 0 1 0 0)">0.4</text>
<text class="y" transform="translate(17.7 488.69) matrix(1 0.002 0 1 0 0)">0.5</text>
<text class="y" transform="translate(17.7 476.67) matrix(1 0.002 0 1 0 0)">0.6</text>
<text class="y" transform="translate(17.7 464.65) matrix(1 0.002 0 1 0 0)">0.7</text>
<text class="y" transform="translate(17.7 452.63) matrix(1 0.002 0 1 0 0)">0.8</text>
<text class="t" transform="translate(117.92 442.65) matrix(1 0.002 0 1 0 0)">20X HG001</text>
<text class="yl" transform="translate(6.8 485.6) rotate(-90) matrix(1 0.002 0 1 0 0)">F1-score</text>
<text class="v" transform="translate(274.21 462.78) matrix(1 0.002 0 1 0 0)">0.696</text>
<text class="v" transform="translate(274.21 457.25) matrix(1 0.002 0 1 0 0)">0.742</text>
<text class="v" transform="translate(274.21 451.12) matrix(1 0.002 0 1 0 0)">0.793</text>
<text class="v" transform="translate(300.31 465.06) matrix(1 0.002 0 1 0 0)">0.677</text>
<text class="v" transform="translate(300.31 460.38) matrix(1 0.002 0 1 0 0)">0.716</text>
<text class="v" transform="translate(300.31 453.41) matrix(1 0.002 0 1 0 0)">0.774</text>
<text class="v" transform="translate(326.4 477.93) matrix(1 0.002 0 1 0 0)">0.57</text>
<text class="v" transform="translate(326.4 462.18) matrix(1 0.002 0 1 0 0)">0.701</text>
<text class="v" transform="translate(326.4 453.65) matrix(1 0.002 0 1 0 0)">0.772</text>
<text class="v" transform="translate(352.5 461.82) matrix(1 0.002 0 1 0 0)">0.704</text>
<text class="v" transform="translate(352.5 451.36) matrix(1 0.002 0 1 0 0)">0.791</text>
<text class="v" transform="translate(378.6 482.25) matrix(1 0.002 0 1 0 0)">0.534</text>
<text class="v" transform="translate(378.6 453.89) matrix(1 0.002 0 1 0 0)">0.77</text>
<text class="v" transform="translate(404.69 491.39) matrix(1 0.002 0 1 0 0)">0.458</text>
<text class="v" transform="translate(404.69 475.64) matrix(1 0.002 0 1 0 0)">0.589</text>
<text class="v" transform="translate(430.79 517.47) matrix(1 0.002 0 1 0 0)">0.241</text>
<text class="v" transform="translate(430.79 466.87) matrix(1 0.002 0 1 0 0)">0.662</text>
<text class="y" transform="translate(251.9 524.75) matrix(1 0.002 0 1 0 0)">0.2</text>
<text class="y" transform="translate(251.9 512.73) matrix(1 0.002 0 1 0 0)">0.3</text>
<text class="y" transform="translate(251.9 500.71) matrix(1 0.002 0 1 0 0)">0.4</text>
<text class="y" transform="translate(251.9 488.69) matrix(1 0.002 0 1 0 0)">0.5</text>
<text class="y" transform="translate(251.9 476.67) matrix(1 0.002 0 1 0 0)">0.6</text>
<text class="y" transform="translate(251.9 464.65) matrix(1 0.002 0 1 0 0)">0.7</text>
<text class="y" transform="translate(251.9 452.63) matrix(1 0.002 0 1 0 0)">0.8</text>
<text class="t" transform="translate(352.2 442.65) matrix(1 0.002 0 1 0 0)">20X HG002</text>
<text class="yl" transform="translate(241 485.6) rotate(-90) matrix(1 0.002 0 1 0 0)">F1-score</text>
<text class="v" transform="translate(508.57 461.82) matrix(1 0.002 0 1 0 0)">0.704</text>
<text class="v" transform="translate(508.57 456.05) matrix(1 0.002 0 1 0 0)">0.752</text>
<text class="v" transform="translate(508.57 449.08) matrix(1 0.002 0 1 0 0)">0.81</text>
<text class="v" transform="translate(534.67 464.7) matrix(1 0.002 0 1 0 0)">0.68</text>
<text class="v" transform="translate(534.67 459.3) matrix(1 0.002 0 1 0 0)">0.725</text>
<text class="v" transform="translate(534.67 451.96) matrix(1 0.002 0 1 0 0)">0.786</text>
<text class="v" transform="translate(560.77 474.44) matrix(1 0.002 0 1 0 0)">0.599</text>
<text class="v" transform="translate(560.77 461.58) matrix(1 0.002 0 1 0 0)">0.706</text>
<text class="v" transform="translate(560.77 453.16) matrix(1 0.002 0 1 0 0)">0.776</text>
<text class="v" transform="translate(586.88 460.98) matrix(1 0.002 0 1 0 0)">0.711</text>
<text class="v" transform="translate(586.88 449.92) matrix(1 0.002 0 1 0 0)">0.803</text>
<text class="v" transform="translate(612.98 479.97) matrix(1 0.002 0 1 0 0)">0.553</text>
<text class="v" transform="translate(612.98 453.41) matrix(1 0.002 0 1 0 0)">0.774</text>
<text class="v" transform="translate(639.08 487.54) matrix(1 0.002 0 1 0 0)">0.49</text>
<text class="v" transform="translate(639.08 473.24) matrix(1 0.002 0 1 0 0)">0.609</text>
<text class="v" transform="translate(665.18 516.99) matrix(1 0.002 0 1 0 0)">0.245</text>
<text class="v" transform="translate(665.18 468.55) matrix(1 0.002 0 1 0 0)">0.648</text>
<text class="y" transform="translate(486.25 524.75) matrix(1 0.002 0 1 0 0)">0.2</text>
<text class="y" transform="translate(486.25 512.73) matrix(1 0.002 0 1 0 0)">0.3</text>
<text class="y" transform="translate(486.25 500.71) matrix(1 0.002 0 1 0 0)">0.4</text>
<text class="y" transform="translate(486.25 488.69) matrix(1 0.002 0 1 0 0)">0.5</text>
<text class="y" transform="translate(486.25 476.67) matrix(1 0.002 0 1 0 0)">0.6</text>
<text class="y" transform="translate(486.25 464.65) matrix(1 0.002 0 1 0 0)">0.7</text>
<text class="y" transform="translate(486.25 452.63) matrix(1 0.002 0 1 0 0)">0.8</text>
<text class="t" transform="translate(586.58 442.65) matrix(1 0.002 0 1 0 0)">20X HG00733</text>
<text class="yl" transform="translate(475.35 485.6) rotate(-90) matrix(1 0.002 0 1 0 0)">F1-score</text>
<text class="v" transform="translate(40 557.83) matrix(1 0.002 0 1 0 0)">0.744</text>
<text class="v" transform="translate(40 552) matrix(1 0.002 0 1 0 0)">0.768</text>
<text class="v" transform="translate(40 545.63) matrix(1 0.002 0 1 0 0)">0.821</text>
<text class="v" transform="translate(66.07 559.87) matrix(1 0.002 0 1 0 0)">0.727</text>
<text class="v" transform="translate(66.07 554.64) matrix(1 0.002 0 1 0 0)">0.746</text>
<text class="v" transform="translate(66.07 548.27) matrix(1 0.002 0 1 0 0)">0.799</text>
<text class="v" transform="translate(92.15 566.3) matrix(1 0.002 0 1 0 0)">0.649</text>
<text class="v" transform="translate(92.15 557.29) matrix(1 0.002 0 1 0 0)">0.724</text>
<text class="v" transform="translate(92.15 549.11) matrix(1 0.002 0 1 0 0)">0.792</text>
<text class="v" transform="translate(118.23 556.32) matrix(1 0.002 0 1 0 0)">0.732</text>
<text class="v" transform="translate(118.23 547.31) matrix(1 0.002 0 1 0 0)">0.807</text>
<text class="v" transform="translate(144.3 575.32) matrix(1 0.002 0 1 0 0)">0.574</text>
<text class="v" transform="translate(144.3 548.75) matrix(1 0.002 0 1 0 0)">0.795</text>
<text class="v" transform="translate(170.38 584.93) matrix(1 0.002 0 1 0 0)">0.494</text>
<text class="v" transform="translate(170.38 572.07) matrix(1 0.002 0 1 0 0)">0.601</text>
<text class="v" transform="translate(196.45 616.18) matrix(1 0.002 0 1 0 0)">0.234</text>
<text class="v" transform="translate(196.45 569.79) matrix(1 0.002 0 1 0 0)">0.62</text>
<text class="y" transform="translate(17.7 622.42) matrix(1 0.002 0 1 0 0)">0.2</text>
<text class="y" transform="translate(17.7 610.4) matrix(1 0.002 0 1 0 0)">0.3</text>
<text class="y" transform="translate(17.7 598.38) matrix(1 0.002 0 1 0 0)">0.4</text>
<text class="y" transform="translate(17.7 586.36) matrix(1 0.002 0 1 0 0)">0.5</text>
<text class="y" transform="translate(17.7 574.34) matrix(1 0.002 0 1 0 0)">0.6</text>
<text class="y" transform="translate(17.7 562.32) matrix(1 0.002 0 1 0 0)">0.7</text>
<text class="y" transform="translate(17.7 550.3) matrix(1 0.002 0 1 0 0)">0.8</text>
<text class="t" transform="translate(117.92 540.32) matrix(1 0.002 0 1 0 0)">40X HG001</text>
<text class="yl" transform="translate(6.8 583.37) rotate(-90) matrix(1 0.002 0 1 0 0)">F1-score</text>
<text class="x" transform="translate(40 631.17) matrix(1 0.002 0 1 0 0)">Duet</text>
<text class="x" transform="translate(40 636.77) matrix(1 0.002 0 1 0 0)">(cuteSV)</text>
<text class="x" transform="translate(66.07 631.17) matrix(1 0.002 0 1 0 0)">Duet</text>
<text class="x" transform="translate(66.07 636.77) matrix(1 0.002 0 1 0 0)">(SVIM)</text>
<text class="x" transform="translate(92.15 631.17) matrix(1 0.002 0 1 0 0)">LongPhase</text>
<text class="x" transform="translate(118.23 631.17) matrix(1 0.002 0 1 0 0)">cuteSV</text>
<text class="x" transform="translate(144.3 631.17) matrix(1 0.002 0 1 0 0)">SVIM</text>
<text class="x" transform="translate(170.38 631.17) matrix(1 0.002 0 1 0 0)">NanoVar</text>
<text class="x" transform="translate(196.45 631.17) matrix(1 0.002 0 1 0 0)">Sniffles</text>
<text class="v" transform="translate(274.21 558.37) matrix(1 0.002 0 1 0 0)">0.715</text>
<text class="v" transform="translate(274.21 554.04) matrix(1 0.002 0 1 0 0)">0.751</text>
<text class="v" transform="translate(274.21 548.03) matrix(1 0.002 0 1 0 0)">0.801</text>
<text class="v" transform="translate(300.31 561.37) matrix(1 0.002 0 1 0 0)">0.69</text>
<text class="v" transform="translate(300.31 557.53) matrix(1 0.002 0 1 0 0)">0.722</text>
<text class="v" transform="translate(300.31 551.4) matrix(1 0.002 0 1 0 0)">0.773</text>
<text class="v" transform="translate(326.4 575.32) matrix(1 0.002 0 1 0 0)">0.574</text>
<text class="v" transform="translate(326.4 557.53) matrix(1 0.002 0 1 0 0)">0.722</text>
<text class="v" transform="translate(326.4 550.43) matrix(1 0.002 0 1 0 0)">0.781</text>
<text class="v" transform="translate(352.5 557.77) matrix(1 0.002 0 1 0 0)">0.72</text>
<text class="v" transform="translate(352.5 548.75) matrix(1 0.002 0 1 0 0)">0.795</text>
<text class="v" transform="translate(378.6 580.24) matrix(1 0.002 0 1 0 0)">0.533</text>
<text class="v" transform="translate(378.6 551.4) matrix(1 0.002 0 1 0 0)">0.773</text>
<text class="v" transform="translate(404.69 590.82) matrix(1 0.002 0 1 0 0)">0.445</text>
<text class="v" transform="translate(404.69 575.92) matrix(1 0.002 0 1 0 0)">0.569</text>
<text class="v" transform="translate(430.79 613.3) matrix(1 0.002 0 1 0 0)">0.258</text>
<text class="v" transform="translate(430.79 564.26) matrix(1 0.002 0 1 0 0)">0.666</text>
<text class="y" transform="translate(251.9 622.42) matrix(1 0.002 0 1 0 0)">0.2</text>
<text class="y" transform="translate(251.9 610.4) matrix(1 0.002 0 1 0 0)">0.3</text>
<text class="y" transform="translate(251.9 598.38) matrix(1 0.002 0 1 0 0)">0.4</text>
<text class="y" transform="translate(251.9 586.36) matrix(1 0.002 0 1 0 0)">0.5</text>
<text class="y" transform="translate(251.9 574.34) matrix(1 0.002 0 1 0 0)">0.6</text>
<text class="y" transform="translate(251.9 562.32) matrix(1 0.002 0 1 0 0)">0.7</text>
<text class="y" transform="translate(251.9 550.3) matrix(1 0.002 0 1 0 0)">0.8</text>
<text class="t" transform="translate(352.2 540.32) matrix(1 0.002 0 1 0 0)">40X HG002</text>
<text class="yl" transform="translate(241 583.37) rotate(-90) matrix(1 0.002 0 1 0 0)">F1-score</text>
<text class="x" transform="translate(274.21 631.17) matrix(1 0.002 0 1 0 0)">Duet</text>
<text class="x" transform="translate(274.21 636.77) matrix(1 0.002 0 1 0 0)">(cuteSV)</text>
<text class="x" transform="translate(300.31 631.17) matrix(1 0.002 0 1 0 0)">Duet</text>
<text class="x" transform="translate(300.31 636.77) matrix(1 0.002 0 1 0 0)">(SVIM)</text>
<text class="x" transform="translate(326.4 631.17) matrix(1 0.002 0 1 0 0)">LongPhase</text>
<text class="x" transform="translate(352.5 631.17) matrix(1 0.002 0 1 0 0)">cuteSV</text>
<text class="x" transform="translate(378.6 631.17) matrix(1 0.002 0 1 0 0)">SVIM</text>
<text class="x" transform="translate(404.69 631.17) matrix(1 0.002 0 1 0 0)">NanoVar</text>
<text class="x" transform="translate(430.79 631.17) matrix(1 0.002 0 1 0 0)">Sniffles</text>
<text class="v" transform="translate(508.57 557.29) matrix(1 0.002 0 1 0 0)">0.724</text>
<text class="v" transform="translate(508.57 552.24) matrix(1 0.002 0 1 0 0)">0.766</text>
<text class="v" transform="translate(508.57 546.11) matrix(1 0.002 0 1 0 0)">0.817</text>
<text class="v" transform="translate(534.67 560.17) matrix(1 0.002 0 1 0 0)">0.7</text>
<text class="v" transform="translate(534.67 556.08) matrix(1 0.002 0 1 0 0)">0.734</text>
<text class="v" transform="translate(534.67 549.95) matrix(1 0.002 0 1 0 0)">0.785</text>
<text class="v" transform="translate(560.77 570.39) matrix(1 0.002 0 1 0 0)">0.615</text>
<text class="v" transform="translate(560.77 556.56) matrix(1 0.002 0 1 0 0)">0.73</text>
<text class="v" transform="translate(560.77 549.35) matrix(1 0.002 0 1 0 0)">0.79</text>
<text class="v" transform="translate(586.88 556.68) matrix(1 0.002 0 1 0 0)">0.729</text>
<text class="v" transform="translate(586.88 547.31) matrix(1 0.002 0 1 0 0)">0.807</text>
<text class="v" transform="translate(612.98 577.96) matrix(1 0.002 0 1 0 0)">0.552</text>
<text class="v" transform="translate(612.98 550.43) matrix(1 0.002 0 1 0 0)">0.781</text>
<text class="v" transform="translate(639.08 587.94) matrix(1 0.002 0 1 0 0)">0.469</text>
<text class="v" transform="translate(639.08 575.32) matrix(1 0.002 0 1 0 0)">0.574</text>
<text class="v" transform="translate(665.18 613.3) matrix(1 0.002 0 1 0 0)">0.258</text>
<text class="v" transform="translate(665.18 565.46) matrix(1 0.002 0 1 0 0)">0.656</text>
<text class="y" transform="translate(486.25 622.42) matrix(1 0.002 0 1 0 0)">0.2</text>
<text class="y" transform="translate(486.25 610.4) matrix(1 0.002 0 1 0 0)">0.3</text>
<text class="y" transform="translate(486.25 598.38) matrix(1 0.002 0 1 0 0)">0.4</text>
<text class="y" transform="translate(486.25 586.36) matrix(1 0.002 0 1 0 0)">0.5</text>
<text class="y" transform="translate(486.25 574.34) matrix(1 0.002 0 1 0 0)">0.6</text>
<text class="y" transform="translate(486.25 562.32) matrix(1 0.002 0 1 0 0)">0.7</text>
<text class="y" transform="translate(486.25 550.3) matrix(1 0.002 0 1 0 0)">0.8</text>
<text class="t" transform="translate(586.58 540.32) matrix(1 0.002 0 1 0 0)">40X HG00733</text>
<text class="yl" transform="translate(475.35 583.37) rotate(-90) matrix(1 0.002 0 1 0 0)">F1-score</text>
<text class="x" transform="translate(508.57 631.17) matrix(1 0.002 0 1 0 0)">Duet</text>
<text class="x" transform="translate(508.57 636.77) matrix(1 0.002 0 1 0 0)">(cuteSV)</text>
<text class="x" transform="translate(534.67 631.17) matrix(1 0.002 0 1 0 0)">Duet</text>
<text class="x" transform="translate(534.67 636.77) matrix(1 0.002 0 1 0 0)">(SVIM)</text>
<text class="x" transform="translate(560.77 631.17) matrix(1 0.002 0 1 0 0)">LongPhase</text>
<text class="x" transform="translate(586.88 631.17) matrix(1 0.002 0 1 0 0)">cuteSV</text>
<text class="x" transform="translate(612.98 631.17) matrix(1 0.002 0 1 0 0)">SVIM</text>
<text class="x" transform="translate(639.08 631.17) matrix(1 0.002 0 1 0 0)">NanoVar</text>
<text class="x" transform="translate(665.18 631.17) matrix(1 0.002 0 1 0 0)">Sniffles</text>
<text class="v" transform="translate(40 702.78) matrix(1 0.002 0 1 0 0)">0.641</text>
<text class="v" transform="translate(40 694.89) matrix(1 0.002 0 1 0 0)">0.706</text>
<text class="v" transform="translate(40 684.95) matrix(1 0.002 0 1 0 0)">0.788</text>
<text class="v" transform="translate(66.07 701.93) matrix(1 0.002 0 1 0 0)">0.648</text>
<text class="v" transform="translate(66.07 694.41) matrix(1 0.002 0 1 0 0)">0.71</text>
<text class="v" transform="translate(66.07 685.55) matrix(1 0.002 0 1 0 0)">0.783</text>
<text class="v" transform="translate(92.15 710.18) matrix(1 0.002 0 1 0 0)">0.58</text>
<text class="v" transform="translate(92.15 706.05) matrix(1 0.002 0 1 0 0)">0.614</text>
<text class="v" transform="translate(92.15 694.89) matrix(1 0.002 0 1 0 0)">0.706</text>
<text class="v" transform="translate(118.23 706.42) matrix(1 0.002 0 1 0 0)">0.611</text>
<text class="v" transform="translate(118.23 693.44) matrix(1 0.002 0 1 0 0)">0.718</text>
<text class="v" transform="translate(144.3 705.45) matrix(1 0.002 0 1 0 0)">0.619</text>
<text class="v" transform="translate(144.3 690.89) matrix(1 0.002 0 1 0 0)">0.739</text>
<text class="v" transform="translate(170.38 709.21) matrix(1 0.002 0 1 0 0)">0.588</text>
<text class="v" transform="translate(170.38 695.13) matrix(1 0.002 0 1 0 0)">0.704</text>
<text class="v" transform="translate(196.45 747.54) matrix(1 0.002 0 1 0 0)">0.272</text>
<text class="v" transform="translate(196.45 702.17) matrix(1 0.002 0 1 0 0)">0.646</text>
<text class="y" transform="translate(17.7 758.62) matrix(1 0.002 0 1 0 0)">0.2</text>
<text class="y" transform="translate(17.7 746.49) matrix(1 0.002 0 1 0 0)">0.3</text>
<text class="y" transform="translate(17.7 734.36) matrix(1 0.002 0 1 0 0)">0.4</text>
<text class="y" transform="translate(17.7 722.23) matrix(1 0.002 0 1 0 0)">0.5</text>
<text class="y" transform="translate(17.7 710.1) matrix(1 0.002 0 1 0 0)">0.6</text>
<text class="y" transform="translate(17.7 697.97) matrix(1 0.002 0 1 0 0)">0.7</text>
<text class="y" transform="translate(17.7 685.84) matrix(1 0.002 0 1 0 0)">0.8</text>
<text class="t" transform="translate(117.92 673) matrix(1 0.002 0 1 0 0)">8X HG001</text>
<text class="yl" transform="translate(6.8 716.09) rotate(-90) matrix(1 0.002 0 1 0 0)">F1-score</text>
<text class="v" transform="translate(274.21 708.6) matrix(1 0.002 0 1 0 0)">0.593</text>
<text class="v" transform="translate(274.21 692.1) matrix(1 0.002 0 1 0 0)">0.729</text>
<text class="v" transform="translate(274.21 683.61) matrix(1 0.002 0 1 0 0)">0.799</text>
<text class="v" transform="translate(300.31 707.99) matrix(1 0.002 0 1 0 0)">0.598</text>
<text class="v" transform="translate(300.31 692.1) matrix(1 0.002 0 1 0 0)">0.729</text>
<text class="v" transform="translate(300.31 684.1) matrix(1 0.002 0 1 0 0)">0.795</text>
<text class="v" transform="translate(326.4 711.51) matrix(1 0.002 0 1 0 0)">0.569</text>
<text class="v" transform="translate(326.4 703.99) matrix(1 0.002 0 1 0 0)">0.631</text>
<text class="v" transform="translate(326.4 694.04) matrix(1 0.002 0 1 0 0)">0.713</text>
<text class="v" transform="translate(352.5 703.63) matrix(1 0.002 0 1 0 0)">0.634</text>
<text class="v" transform="translate(352.5 690.89) matrix(1 0.002 0 1 0 0)">0.739</text>
<text class="v" transform="translate(378.6 702.78) matrix(1 0.002 0 1 0 0)">0.641</text>
<text class="v" transform="translate(378.6 689.92) matrix(1 0.002 0 1 0 0)">0.747</text>
<text class="v" transform="translate(404.69 706.29) matrix(1 0.002 0 1 0 0)">0.612</text>
<text class="v" transform="translate(404.69 693.19) matrix(1 0.002 0 1 0 0)">0.72</text>
<text class="v" transform="translate(430.79 744.87) matrix(1 0.002 0 1 0 0)">0.294</text>
<text class="v" transform="translate(430.79 699.87) matrix(1 0.002 0 1 0 0)">0.665</text>
<text class="y" transform="translate(251.9 758.62) matrix(1 0.002 0 1 0 0)">0.2</text>
<text class="y" transform="translate(251.9 746.49) matrix(1 0.002 0 1 0 0)">0.3</text>
<text class="y" transform="translate(251.9 734.36) matrix(1 0.002 0 1 0 0)">0.4</text>
<text class="y" transform="translate(251.9 722.23) matrix(1 0.002 0 1 0 0)">0.5</text>
<text class="y" transform="translate(251.9 710.1) matrix(1 0.002 0 1 0 0)">0.6</text>
<text class="y" transform="translate(251.9 697.97) matrix(1 0.002 0 1 0 0)">0.7</text>
<text class="y" transform="translate(251.9 685.84) matrix(1 0.002 0 1 0 0)">0.8</text>
<text class="t" transform="translate(352.2 673) matrix(1 0.002 0 1 0 0)">8X HG002</text>
<text class="yl" transform="translate(241 716.09) rotate(-90) matrix(1 0.002 0 1 0 0)">F1-score</text>
<text class="v" transform="translate(508.57 705.45) matrix(1 0.002 0 1 0 0)">0.619</text>
<text class="v" transform="translate(508.57 692.1) matrix(1 0.002 0 1 0 0)">0.729</text>
<text class="v" transform="translate(508.57 683.61) matrix(1 0.002 0 1 0 0)">0.799</text>
<text class="v" transform="translate(534.67 703.99) matrix(1 0.002 0 1 0 0)">0.631</text>
<text class="v" transform="translate(534.67 691.13) matrix(1 0.002 0 1 0 0)">0.737</text>
<text class="v" transform="translate(534.67 683.49) matrix(1 0.002 0 1 0 0)">0.8</text>
<text class="v" transform="translate(560.77 711.39) matrix(1 0.002 0 1 0 0)">0.57</text>
<text class="v" transform="translate(560.77 704.47) matrix(1 0.002 0 1 0 0)">0.627</text>
<text class="v" transform="translate(560.77 694.04) matrix(1 0.002 0 1 0 0)">0.713</text>
<text class="v" transform="translate(586.88 703.02) matrix(1 0.002 0 1 0 0)">0.639</text>
<text class="v" transform="translate(586.88 690.89) matrix(1 0.002 0 1 0 0)">0.739</text>
<text class="v" transform="translate(612.98 703.02) matrix(1 0.002 0 1 0 0)">0.639</text>
<text class="v" transform="translate(612.98 689.92) matrix(1 0.002 0 1 0 0)">0.747</text>
<text class="v" transform="translate(639.08 707.51) matrix(1 0.002 0 1 0 0)">0.602</text>
<text class="v" transform="translate(639.08 693.44) matrix(1 0.002 0 1 0 0)">0.718</text>
<text class="v" transform="translate(665.18 745.72) matrix(1 0.002 0 1 0 0)">0.287</text>
<text class="v" transform="translate(665.18 701.32) matrix(1 0.002 0 1 0 0)">0.653</text>
<text class="y" transform="translate(486.25 758.62) matrix(1 0.002 0 1 0 0)">0.2</text>
<text class="y" transform="translate(486.25 746.49) matrix(1 0.002 0 1 0 0)">0.3</text>
<text class="y" transform="translate(486.25 734.36) matrix(1 0.002 0 1 0 0)">0.4</text>
<text class="y" transform="translate(486.25 722.23) matrix(1 0.002 0 1 0 0)">0.5</text>
<text class="y" transform="translate(486.25 710.1) matrix(1 0.002 0 1 0 0)">0.6</text>
<text class="y" transform="translate(486.25 697.97) matrix(1 0.002 0 1 0 0)">0.7</text>
<text class="y" transform="translate(486.25 685.84) matrix(1 0.002 0 1 0 0)">0.8</text>
<text class="t" transform="translate(586.58 673) matrix(1 0.002 0 1 0 0)">8X HG00733</text>
<text class="yl" transform="translate(475.35 716.09) rotate(-90) matrix(1 0.002 0 1 0 0)">F1-score</text>
<text class="v" transform="translate(40 786.07) matrix(1 0.002 0 1 0 0)">0.76</text>
<text class="v" transform="translate(40 782.91) matrix(1 0.002 0 1 0 0)">0.79</text>
<text class="v" transform="translate(40 776.97) matrix(1 0.002 0 1 0 0)">0.839</text>
<text class="v" transform="translate(66.07 787.89) matrix(1 0.002 0 1 0 0)">0.749</text>
<text class="v" transform="translate(66.07 784.37) matrix(1 0.002 0 1 0 0)">0.778</text>
<text class="v" transform="translate(66.07 779.03) matrix(1 0.002 0 1 0 0)">0.822</text>
<text class="v" transform="translate(92.15 797.59) matrix(1 0.002 0 1 0 0)">0.669</text>
<text class="v" transform="translate(92.15 785.82) matrix(1 0.002 0 1 0 0)">0.766</text>
<text class="v" transform="translate(92.15 779.76) matrix(1 0.002 0 1 0 0)">0.816</text>
<text class="v" transform="translate(118.23 785.82) matrix(1 0.002 0 1 0 0)">0.766</text>
<text class="v" transform="translate(118.23 778.79) matrix(1 0.002 0 1 0 0)">0.824</text>
<text class="v" transform="translate(144.3 791.77) matrix(1 0.002 0 1 0 0)">0.717</text>
<text class="v" transform="translate(144.3 779.03) matrix(1 0.002 0 1 0 0)">0.82</text>
<text class="v" transform="translate(170.38 799.53) matrix(1 0.002 0 1 0 0)">0.653</text>
<text class="v" transform="translate(170.38 790.07) matrix(1 0.002 0 1 0 0)">0.731</text>
<text class="v" transform="translate(196.45 838.23) matrix(1 0.002 0 1 0 0)">0.334</text>
<text class="v" transform="translate(196.45 792.74) matrix(1 0.002 0 1 0 0)">0.709</text>
<text class="y" transform="translate(17.7 856.53) matrix(1 0.002 0 1 0 0)">0.2</text>
<text class="y" transform="translate(17.7 844.4) matrix(1 0.002 0 1 0 0)">0.3</text>
<text class="y" transform="translate(17.7 832.27) matrix(1 0.002 0 1 0 0)">0.4</text>
<text class="y" transform="translate(17.7 820.14) matrix(1 0.002 0 1 0 0)">0.5</text>
<text class="y" transform="translate(17.7 808.01) matrix(1 0.002 0 1 0 0)">0.6</text>
<text class="y" transform="translate(17.7 795.88) matrix(1 0.002 0 1 0 0)">0.7</text>
<text class="y" transform="translate(17.7 783.75) matrix(1 0.002 0 1 0 0)">0.8</text>
<text class="t" transform="translate(117.92 771.11) matrix(1 0.002 0 1 0 0)">20X HG001</text>
<text class="yl" transform="translate(6.8 814.1) rotate(-90) matrix(1 0.002 0 1 0 0)">F1-score</text>
<text class="v" transform="translate(274.21 788.86) matrix(1 0.002 0 1 0 0)">0.741</text>
<text class="v" transform="translate(274.21 783.16) matrix(1 0.002 0 1 0 0)">0.788</text>
<text class="v" transform="translate(274.21 777.58) matrix(1 0.002 0 1 0 0)">0.834</text>
<text class="v" transform="translate(300.31 790.8) matrix(1 0.002 0 1 0 0)">0.725</text>
<text class="v" transform="translate(300.31 784.61) matrix(1 0.002 0 1 0 0)">0.776</text>
<text class="v" transform="translate(300.31 779.03) matrix(1 0.002 0 1 0 0)">0.822</text>
<text class="v" transform="translate(326.4 806.81) matrix(1 0.002 0 1 0 0)">0.59</text>
<text class="v" transform="translate(326.4 785.46) matrix(1 0.002 0 1 0 0)">0.769</text>
<text class="v" transform="translate(326.4 779.64) matrix(1 0.002 0 1 0 0)">0.817</text>
<text class="v" transform="translate(352.5 786.07) matrix(1 0.002 0 1 0 0)">0.76</text>
<text class="v" transform="translate(352.5 779.03) matrix(1 0.002 0 1 0 0)">0.822</text>
<text class="v" transform="translate(378.6 791.65) matrix(1 0.002 0 1 0 0)">0.718</text>
<text class="v" transform="translate(378.6 778.79) matrix(1 0.002 0 1 0 0)">0.824</text>
<text class="v" transform="translate(404.69 800.14) matrix(1 0.002 0 1 0 0)">0.648</text>
<text class="v" transform="translate(404.69 790.31) matrix(1 0.002 0 1 0 0)">0.729</text>
<text class="v" transform="translate(430.79 842.47) matrix(1 0.002 0 1 0 0)">0.299</text>
<text class="v" transform="translate(430.79 800.99) matrix(1 0.002 0 1 0 0)">0.641</text>
<text class="y" transform="translate(251.9 856.53) matrix(1 0.002 0 1 0 0)">0.2</text>
<text class="y" transform="translate(251.9 844.4) matrix(1 0.002 0 1 0 0)">0.3</text>
<text class="y" transform="translate(251.9 832.27) matrix(1 0.002 0 1 0 0)">0.4</text>
<text class="y" transform="translate(251.9 820.14) matrix(1 0.002 0 1 0 0)">0.5</text>
<text class="y" transform="translate(251.9 808.01) matrix(1 0.002 0 1 0 0)">0.6</text>
<text class="y" transform="translate(251.9 795.88) matrix(1 0.002 0 1 0 0)">0.7</text>
<text class="y" transform="translate(251.9 783.75) matrix(1 0.002 0 1 0 0)">0.8</text>
<text class="t" transform="translate(352.2 771.11) matrix(1 0.002 0 1 0 0)">20X HG002</text>
<text class="yl" transform="translate(241 814.1) rotate(-90) matrix(1 0.002 0 1 0 0)">F1-score</text>
<text class="v" transform="translate(508.57 789.1) matrix(1 0.002 0 1 0 0)">0.739</text>
<text class="v" transform="translate(508.57 780.85) matrix(1 0.002 0 1 0 0)">0.807</text>
<text class="v" transform="translate(508.57 776.48) matrix(1 0.002 0 1 0 0)">0.84</text>
<text class="v" transform="translate(534.67 789.83) matrix(1 0.002 0 1 0 0)">0.733</text>
<text class="v" transform="translate(534.67 781.94) matrix(1 0.002 0 1 0 0)">0.798</text>
<text class="v" transform="translate(534.67 776.97) matrix(1 0.002 0 1 0 0)">0.839</text>
<text class="v" transform="translate(560.77 802.68) matrix(1 0.002 0 1 0 0)">0.627</text>
<text class="v" transform="translate(560.77 785.82) matrix(1 0.002 0 1 0 0)">0.766</text>
<text class="v" transform="translate(560.77 780) matrix(1 0.002 0 1 0 0)">0.814</text>
<text class="v" transform="translate(586.88 785.22) matrix(1 0.002 0 1 0 0)">0.771</text>
<text class="v" transform="translate(586.88 778.42) matrix(1 0.002 0 1 0 0)">0.827</text>
<text class="v" transform="translate(612.98 790.8) matrix(1 0.002 0 1 0 0)">0.725</text>
<text class="v" transform="translate(612.98 778.18) matrix(1 0.002 0 1 0 0)">0.829</text>
<text class="v" transform="translate(639.08 797.83) matrix(1 0.002 0 1 0 0)">0.667</text>
<text class="v" transform="translate(639.08 788.37) matrix(1 0.002 0 1 0 0)">0.745</text>
<text class="v" transform="translate(665.18 840.17) matrix(1 0.002 0 1 0 0)">0.318</text>
<text class="v" transform="translate(665.18 794.8) matrix(1 0.002 0 1 0 0)">0.69</text>
<text class="y" transform="translate(486.25 856.53) matrix(1 0.002 0 1 0 0)">0.2</text>
<text class="y" transform="translate(486.25 844.4) matrix(1 0.002 0 1 0 0)">0.3</text>
<text class="y" transform="translate(486.25 832.27) matrix(1 0.002 0 1 0 0)">0.4</text>
<text class="y" transform="translate(486.25 820.14) matrix(1 0.002 0 1 0 0)">0.5</text>
<text class="y" transform="translate(486.25 808.01) matrix(1 0.002 0 1 0 0)">0.6</text>
<text class="y" transform="translate(486.25 795.88) matrix(1 0.002 0 1 0 0)">0.7</text>
<text class="y" transform="translate(486.25 783.75) matrix(1 0.002 0 1 0 0)">0.8</text>
<text class="t" transform="translate(586.58 771.11) matrix(1 0.002 0 1 0 0)">20X HG00733</text>
<text class="yl" transform="translate(475.35 814.1) rotate(-90) matrix(1 0.002 0 1 0 0)">F1-score</text>
<text class="v" transform="translate(40 883.34) matrix(1 0.002 0 1 0 0)">0.764</text>
<text class="v" transform="translate(40 879.82) matrix(1 0.002 0 1 0 0)">0.793</text>
<text class="v" transform="translate(40 874.6) matrix(1 0.002 0 1 0 0)">0.836</text>
<text class="v" transform="translate(66.07 885.64) matrix(1 0.002 0 1 0 0)">0.745</text>
<text class="v" transform="translate(66.07 882.25) matrix(1 0.002 0 1 0 0)">0.773</text>
<text class="v" transform="translate(66.07 876.91) matrix(1 0.002 0 1 0 0)">0.817</text>
<text class="v" transform="translate(92.15 894.5) matrix(1 0.002 0 1 0 0)">0.672</text>
<text class="v" transform="translate(92.15 882.49) matrix(1 0.002 0 1 0 0)">0.771</text>
<text class="v" transform="translate(92.15 876.91) matrix(1 0.002 0 1 0 0)">0.817</text>
<text class="v" transform="translate(118.23 882.73) matrix(1 0.002 0 1 0 0)">0.769</text>
<text class="v" transform="translate(118.23 876.91) matrix(1 0.002 0 1 0 0)">0.817</text>
<text class="v" transform="translate(144.3 889.52) matrix(1 0.002 0 1 0 0)">0.713</text>
<text class="v" transform="translate(144.3 876.3) matrix(1 0.002 0 1 0 0)">0.822</text>
<text class="v" transform="translate(170.38 896.56) matrix(1 0.002 0 1 0 0)">0.655</text>
<text class="v" transform="translate(170.38 887.46) matrix(1 0.002 0 1 0 0)">0.73</text>
<text class="v" transform="translate(196.45 936.59) matrix(1 0.002 0 1 0 0)">0.325</text>
<text class="v" transform="translate(196.45 891.59) matrix(1 0.002 0 1 0 0)">0.696</text>
<text class="y" transform="translate(17.7 954.35) matrix(1 0.002 0 1 0 0)">0.2</text>
<text class="y" transform="translate(17.7 942.22) matrix(1 0.002 0 1 0 0)">0.3</text>
<text class="y" transform="translate(17.7 930.09) matrix(1 0.002 0 1 0 0)">0.4</text>
<text class="y" transform="translate(17.7 917.96) matrix(1 0.002 0 1 0 0)">0.5</text>
<text class="y" transform="translate(17.7 905.83) matrix(1 0.002 0 1 0 0)">0.6</text>
<text class="y" transform="translate(17.7 893.7) matrix(1 0.002 0 1 0 0)">0.7</text>
<text class="y" transform="translate(17.7 881.57) matrix(1 0.002 0 1 0 0)">0.8</text>
<text class="t" transform="translate(117.92 868.67) matrix(1 0.002 0 1 0 0)">40X HG001</text>
<text class="yl" transform="translate(6.8 911.66) rotate(-90) matrix(1 0.002 0 1 0 0)">F1-score</text>
<text class="x" transform="translate(40 959.4) matrix(1 0.002 0 1 0 0)">Duet</text>
<text class="x" transform="translate(40 965) matrix(1 0.002 0 1 0 0)">(cuteSV)</text>
<text class="x" transform="translate(66.07 959.4) matrix(1 0.002 0 1 0 0)">Duet</text>
<text class="x" transform="translate(66.07 965) matrix(1 0.002 0 1 0 0)">(SVIM)</text>
<text class="x" transform="translate(92.15 959.4) matrix(1 0.002 0 1 0 0)">LongPhase</text>
<text class="x" transform="translate(118.23 959.4) matrix(1 0.002 0 1 0 0)">cuteSV</text>
<text class="x" transform="translate(144.3 959.4) matrix(1 0.002 0 1 0 0)">SVIM</text>
<text class="x" transform="translate(170.38 959.4) matrix(1 0.002 0 1 0 0)">NanoVar</text>
<text class="x" transform="translate(196.45 959.4) matrix(1 0.002 0 1 0 0)">Sniffles</text>
<text class="v" transform="translate(274.21 885.64) matrix(1 0.002 0 1 0 0)">0.745</text>
<text class="v" transform="translate(274.21 880.06) matrix(1 0.002 0 1 0 0)">0.791</text>
<text class="v" transform="translate(274.21 875.21) matrix(1 0.002 0 1 0 0)">0.831</text>
<text class="v" transform="translate(300.31 887.1) matrix(1 0.002 0 1 0 0)">0.733</text>
<text class="v" transform="translate(300.31 881.88) matrix(1 0.002 0 1 0 0)">0.776</text>
<text class="v" transform="translate(300.31 876.67) matrix(1 0.002 0 1 0 0)">0.819</text>
<text class="v" transform="translate(326.4 905.9) matrix(1 0.002 0 1 0 0)">0.578</text>
<text class="v" transform="translate(326.4 881.88) matrix(1 0.002 0 1 0 0)">0.776</text>
<text class="v" transform="translate(326.4 876.54) matrix(1 0.002 0 1 0 0)">0.82</text>
<text class="v" transform="translate(352.5 883.34) matrix(1 0.002 0 1 0 0)">0.764</text>
<text class="v" transform="translate(352.5 876.91) matrix(1 0.002 0 1 0 0)">0.817</text>
<text class="v" transform="translate(378.6 889.16) matrix(1 0.002 0 1 0 0)">0.716</text>
<text class="v" transform="translate(378.6 876.67) matrix(1 0.002 0 1 0 0)">0.819</text>
<text class="v" transform="translate(404.69 897.65) matrix(1 0.002 0 1 0 0)">0.646</text>
<text class="v" transform="translate(404.69 888.92) matrix(1 0.002 0 1 0 0)">0.718</text>
<text class="v" transform="translate(430.79 946.78) matrix(1 0.002 0 1 0 0)">0.241</text>
<text class="v" transform="translate(430.79 913.78) matrix(1 0.002 0 1 0 0)">0.513</text>
<text class="y" transform="translate(251.9 954.35) matrix(1 0.002 0 1 0 0)">0.2</text>
<text class="y" transform="translate(251.9 942.22) matrix(1 0.002 0 1 0 0)">0.3</text>
<text class="y" transform="translate(251.9 930.09) matrix(1 0.002 0 1 0 0)">0.4</text>
<text class="y" transform="translate(251.9 917.96) matrix(1 0.002 0 1 0 0)">0.5</text>
<text class="y" transform="translate(251.9 905.83) matrix(1 0.002 0 1 0 0)">0.6</text>
<text class="y" transform="translate(251.9 893.7) matrix(1 0.002 0 1 0 0)">0.7</text>
<text class="y" transform="translate(251.9 881.57) matrix(1 0.002 0 1 0 0)">0.8</text>
<text class="t" transform="translate(352.2 868.67) matrix(1 0.002 0 1 0 0)">40X HG002</text>
<text class="yl" transform="translate(241 911.66) rotate(-90) matrix(1 0.002 0 1 0 0)">F1-score</text>
<text class="x" transform="translate(274.21 959.4) matrix(1 0.002 0 1 0 0)">Duet</text>
<text class="x" transform="translate(274.21 965) matrix(1 0.002 0 1 0 0)">(cuteSV)</text>
<text class="x" transform="translate(300.31 959.4) matrix(1 0.002 0 1 0 0)">Duet</text>
<text class="x" transform="translate(300.31 965) matrix(1 0.002 0 1 0 0)">(SVIM)</text>
<text class="x" transform="translate(326.4 959.4) matrix(1 0.002 0 1 0 0)">LongPhase</text>
<text class="x" transform="translate(352.5 959.4) matrix(1 0.002 0 1 0 0)">cuteSV</text>
<text class="x" transform="translate(378.6 959.4) matrix(1 0.002 0 1 0 0)">SVIM</text>
<text class="x" transform="translate(404.69 959.4) matrix(1 0.002 0 1 0 0)">NanoVar</text>
<text class="x" transform="translate(430.79 959.4) matrix(1 0.002 0 1 0 0)">Sniffles</text>
<text class="v" transform="translate(508.57 883.7) matrix(1 0.002 0 1 0 0)">0.761</text>
<text class="v" transform="translate(508.57 878.36) matrix(1 0.002 0 1 0 0)">0.805</text>
<text class="v" transform="translate(508.57 874.12) matrix(1 0.002 0 1 0 0)">0.84</text>
<text class="v" transform="translate(534.67 884.79) matrix(1 0.002 0 1 0 0)">0.752</text>
<text class="v" transform="translate(534.67 879.21) matrix(1 0.002 0 1 0 0)">0.798</text>
<text class="v" transform="translate(534.67 874.6) matrix(1 0.002 0 1 0 0)">0.836</text>
<text class="v" transform="translate(560.77 899.59) matrix(1 0.002 0 1 0 0)">0.63</text>
<text class="v" transform="translate(560.77 881.27) matrix(1 0.002 0 1 0 0)">0.781</text>
<text class="v" transform="translate(560.77 876.06) matrix(1 0.002 0 1 0 0)">0.824</text>
<text class="v" transform="translate(586.88 881.64) matrix(1 0.002 0 1 0 0)">0.778</text>
<text class="v" transform="translate(586.88 875.94) matrix(1 0.002 0 1 0 0)">0.825</text>
<text class="v" transform="translate(612.98 887.95) matrix(1 0.002 0 1 0 0)">0.726</text>
<text class="v" transform="translate(612.98 875.94) matrix(1 0.002 0 1 0 0)">0.825</text>
<text class="v" transform="translate(639.08 894.5) matrix(1 0.002 0 1 0 0)">0.672</text>
<text class="v" transform="translate(639.08 886.25) matrix(1 0.002 0 1 0 0)">0.74</text>
<text class="v" transform="translate(665.18 935.62) matrix(1 0.002 0 1 0 0)">0.333</text>
<text class="v" transform="translate(665.18 890.98) matrix(1 0.002 0 1 0 0)">0.701</text>
<text class="y" transform="translate(486.25 954.35) matrix(1 0.002 0 1 0 0)">0.2</text>
<text class="y" transform="translate(486.25 942.22) matrix(1 0.002 0 1 0 0)">0.3</text>
<text class="y" transform="translate(486.25 930.09) matrix(1 0.002 0 1 0 0)">0.4</text>
<text class="y" transform="translate(486.25 917.96) matrix(1 0.002 0 1 0 0)">0.5</text>
<text class="y" transform="translate(486.25 905.83) matrix(1 0.002 0 1 0 0)">0.6</text>
<text class="y" transform="translate(486.25 893.7) matrix(1 0.002 0 1 0 0)">0.7</text>
<text class="y" transform="translate(486.25 881.57) matrix(1 0.002 0 1 0 0)">0.8</text>
<text class="t" transform="translate(586.58 868.67) matrix(1 0.002 0 1 0 0)">40X HG00733</text>
<text class="yl" transform="translate(475.35 911.66) rotate(-90) matrix(1 0.002 0 1 0 0)">F1-score</text>
<text class="x" transform="translate(508.57 959.4) matrix(1 0.002 0 1 0 0)">Duet</text>
<text class="x" transform="translate(508.57 965) matrix(1 0.002 0 1 0 0)">(cuteSV)</text>
<text class="x" transform="translate(534.67 959.4) matrix(1 0.002 0 1 0 0)">Duet</text>
<text class="x" transform="translate(534.67 965) matrix(1 0.002 0 1 0 0)">(SVIM)</text>
<text class="x" transform="translate(560.77 959.4) matrix(1 0.002 0 1 0 0)">LongPhase</text>
<text class="x" transform="translate(586.88 959.4) matrix(1 0.002 0 1 0 0)">cuteSV</text>
<text class="x" transform="translate(612.98 959.4) matrix(1 0.002 0 1 0 0)">SVIM</text>
<text class="x" transform="translate(639.08 959.4) matrix(1 0.002 0 1 0 0)">NanoVar</text>
<text class="x" transform="translate(665.18 959.4) matrix(1 0.002 0 1 0 0)">Sniffles</text>
</g>
</svg></body></html>
